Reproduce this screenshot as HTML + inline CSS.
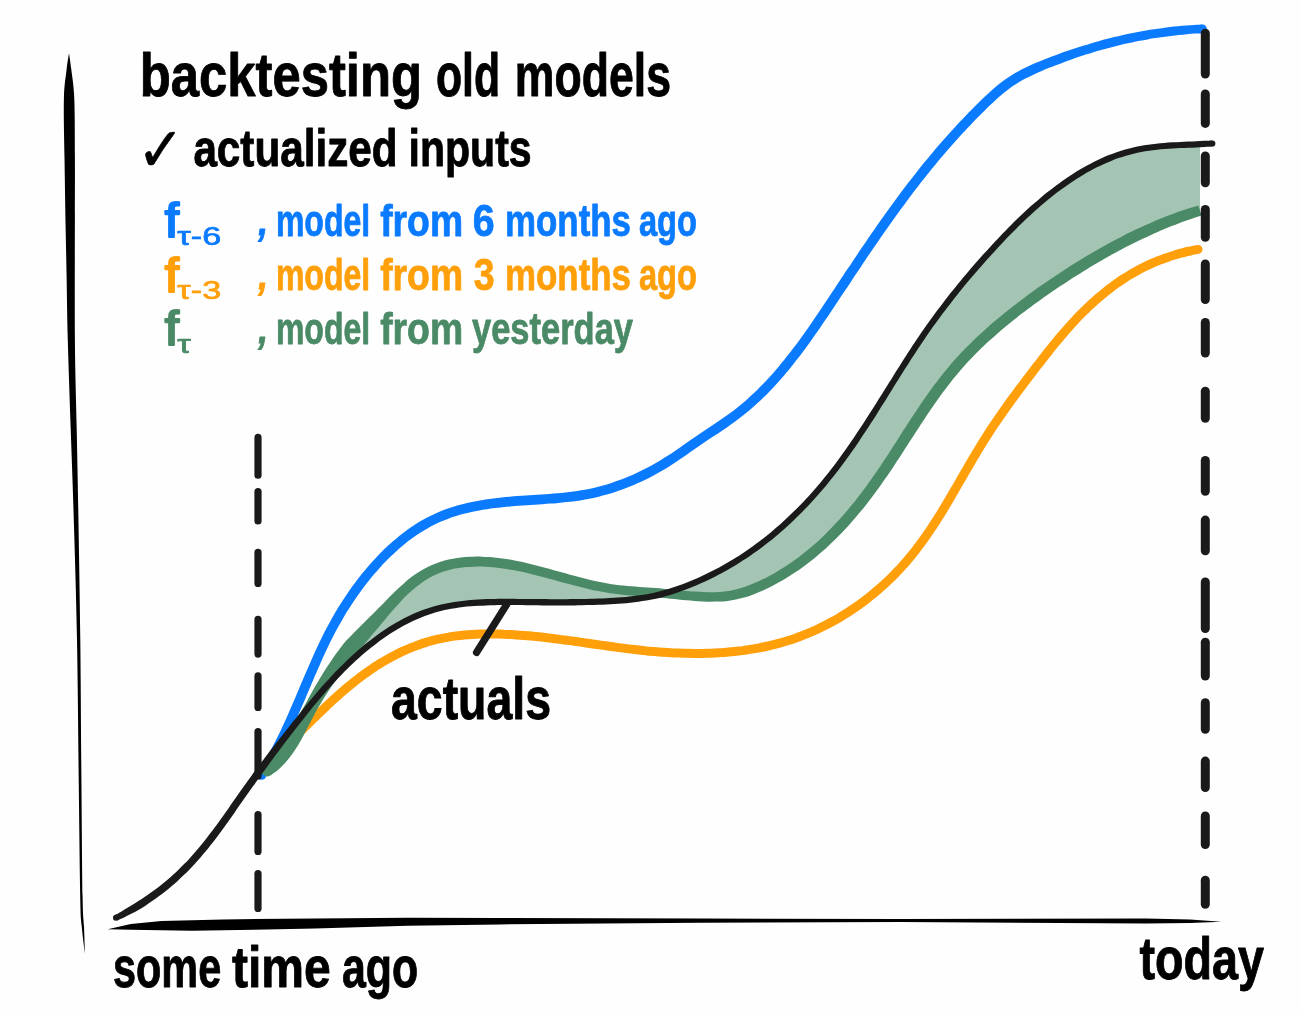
<!DOCTYPE html>
<html lang="en">
<head>
<meta charset="utf-8">
<title>backtesting old models</title>
<style>
html,body{margin:0;padding:0;background:#fefefe;}
body{width:1300px;height:1015px;overflow:hidden;}
svg{display:block;}
text{font-family:'Liberation Sans', sans-serif;}
</style>
</head>
<body>
<svg width="1300" height="1015" viewBox="0 0 1300 1015">
<rect width="1300" height="1015" fill="#fefefe"/>
<g id="chart">
<path d="M267.3 770.7 C268.3 769.8 271.3 767.1 273.2 765.2 C275.1 763.3 276.9 761.4 278.6 759.3 C280.4 757.3 282.1 755.2 283.7 753.1 C285.3 751.0 286.8 748.8 288.4 746.6 C289.9 744.4 291.3 742.1 292.7 739.9 C294.1 737.6 295.5 735.3 296.8 733.0 C298.2 730.7 299.5 728.3 300.8 726.0 C302.1 723.7 303.4 721.3 304.6 718.9 C305.9 716.6 307.2 714.2 308.5 711.9 C309.7 709.5 311.0 707.2 312.3 704.9 C313.6 702.5 314.9 700.2 316.3 697.9 C317.6 695.6 319.0 693.3 320.4 691.0 C321.7 688.7 323.1 686.4 324.6 684.2 C326.0 681.9 327.4 679.7 328.9 677.4 C330.4 675.2 331.9 673.0 333.4 670.8 C334.9 668.6 336.5 666.4 338.1 664.2 C339.6 662.1 341.2 659.9 342.9 657.8 C344.5 655.7 346.1 653.6 347.8 651.5 C349.5 649.4 351.2 647.4 353.0 645.4 C354.7 643.3 356.5 641.3 358.3 639.3 C360.0 637.3 361.9 635.4 363.7 633.4 C365.5 631.4 367.3 629.5 369.1 627.5 C370.9 625.6 372.8 623.6 374.6 621.7 C376.4 619.7 378.2 617.7 380.0 615.7 C381.8 613.8 383.6 611.8 385.4 609.8 C387.2 607.8 389.0 605.8 390.8 603.9 C392.6 601.9 394.4 599.9 396.3 598.0 C398.1 596.1 400.0 594.2 401.9 592.3 C403.9 590.5 405.8 588.7 407.9 586.9 C409.9 585.2 411.9 583.5 414.1 581.8 C416.2 580.2 418.4 578.6 420.6 577.2 C422.8 575.7 425.1 574.3 427.4 573.0 C429.8 571.7 432.2 570.5 434.6 569.5 C437.1 568.4 439.6 567.4 442.1 566.6 C444.7 565.8 447.3 565.1 449.9 564.5 C452.5 563.9 455.1 563.4 457.7 563.0 C460.4 562.6 463.1 562.3 465.7 562.1 C468.4 561.9 471.0 561.7 473.7 561.7 C476.4 561.6 479.1 561.6 481.7 561.7 C484.4 561.7 487.1 561.9 489.8 562.1 C492.4 562.3 495.1 562.5 497.7 562.8 C500.4 563.1 503.0 563.5 505.7 563.9 C508.3 564.3 511.0 564.8 513.6 565.3 C516.2 565.8 518.8 566.3 521.4 566.9 C524.1 567.4 526.7 568.0 529.3 568.7 C531.9 569.3 534.5 569.9 537.1 570.6 C539.6 571.2 542.2 571.9 544.8 572.6 C547.4 573.3 550.0 574.0 552.6 574.7 C555.1 575.4 557.7 576.2 560.3 576.9 C562.9 577.6 565.4 578.3 568.0 579.0 C570.6 579.7 573.2 580.4 575.8 581.1 C578.4 581.7 580.9 582.4 583.5 583.0 C586.1 583.7 588.7 584.3 591.3 584.9 C594.0 585.5 596.6 586.1 599.2 586.6 C601.8 587.1 604.4 587.6 607.1 588.1 C609.7 588.5 612.4 588.9 615.0 589.3 C617.6 589.6 620.3 589.9 623.0 590.2 C625.6 590.5 628.3 590.7 631.0 590.9 C633.6 591.2 636.3 591.3 639.0 591.5 C641.6 591.7 644.3 591.9 647.0 592.1 C649.6 592.3 652.3 592.5 655.0 592.7 C657.6 592.9 660.3 593.1 662.9 593.4 C665.6 593.6 668.3 593.9 670.9 594.1 C673.6 594.4 676.3 594.6 678.9 594.9 C681.6 595.1 684.2 595.4 686.9 595.6 C689.6 595.8 692.2 596.1 694.9 596.2 C697.6 596.4 700.2 596.6 702.9 596.7 C705.6 596.8 708.3 596.9 710.9 596.9 C713.6 596.9 716.3 596.9 718.9 596.8 C721.6 596.6 724.3 596.4 726.9 596.1 C729.6 595.7 732.2 595.3 734.8 594.8 C737.5 594.2 740.1 593.5 742.6 592.8 C745.2 592.0 747.7 591.2 750.2 590.2 C752.7 589.3 755.2 588.3 757.7 587.2 C760.1 586.2 762.5 585.0 764.9 583.9 C767.3 582.7 769.7 581.5 772.1 580.2 C774.4 579.0 776.8 577.7 779.1 576.3 C781.4 575.0 783.7 573.6 786.0 572.2 C788.2 570.8 790.5 569.3 792.7 567.8 C794.9 566.3 797.1 564.8 799.2 563.2 C801.4 561.6 803.5 560.0 805.7 558.4 C807.8 556.7 809.9 555.1 811.9 553.4 C814.0 551.6 816.0 549.9 818.0 548.2 C820.0 546.4 822.0 544.6 824.0 542.8 C825.9 541.0 827.9 539.1 829.8 537.2 C831.7 535.4 833.6 533.5 835.4 531.6 C837.3 529.7 839.2 527.7 841.0 525.8 C842.8 523.8 844.6 521.8 846.4 519.8 C848.1 517.8 849.9 515.8 851.6 513.8 C853.4 511.7 855.1 509.7 856.8 507.6 C858.4 505.5 860.1 503.4 861.8 501.3 C863.4 499.2 865.1 497.1 866.7 495.0 C868.3 492.8 869.9 490.7 871.5 488.5 C873.0 486.4 874.6 484.2 876.1 482.0 C877.7 479.8 879.2 477.7 880.7 475.5 C882.2 473.2 883.7 471.0 885.2 468.8 C886.7 466.6 888.2 464.4 889.7 462.1 C891.2 459.9 892.6 457.7 894.1 455.4 C895.5 453.2 897.0 450.9 898.4 448.7 C899.9 446.5 901.3 444.2 902.8 442.0 C904.2 439.7 905.7 437.4 907.1 435.2 C908.6 433.0 910.0 430.7 911.5 428.5 C912.9 426.2 914.4 424.0 915.8 421.7 C917.3 419.5 918.7 417.3 920.2 415.0 C921.7 412.8 923.2 410.6 924.7 408.4 C926.2 406.2 927.7 403.9 929.2 401.7 C930.8 399.6 932.3 397.4 933.8 395.2 C935.4 393.0 937.0 390.9 938.6 388.7 C940.2 386.6 941.8 384.4 943.4 382.3 C945.0 380.2 946.7 378.1 948.4 376.0 C950.0 373.9 951.7 371.9 953.5 369.8 C955.2 367.8 956.9 365.7 958.7 363.7 C960.5 361.7 962.3 359.8 964.1 357.8 C965.9 355.9 967.8 353.9 969.6 352.0 C971.5 350.1 973.4 348.2 975.3 346.3 C977.2 344.5 979.2 342.6 981.1 340.8 C983.1 339.0 985.0 337.1 987.0 335.4 C989.0 333.6 991.0 331.8 993.0 330.0 C995.0 328.3 997.1 326.5 999.1 324.8 C1001.1 323.1 1003.2 321.4 1005.3 319.7 C1007.3 318.0 1009.4 316.3 1011.5 314.6 C1013.6 313.0 1015.7 311.3 1017.8 309.7 C1019.9 308.1 1022.1 306.4 1024.2 304.8 C1026.3 303.2 1028.5 301.6 1030.6 300.0 C1032.8 298.5 1034.9 296.9 1037.1 295.3 C1039.3 293.8 1041.5 292.2 1043.7 290.7 C1045.9 289.2 1048.1 287.6 1050.3 286.1 C1052.5 284.6 1054.7 283.1 1056.9 281.6 C1059.1 280.1 1061.4 278.7 1063.6 277.2 C1065.8 275.8 1068.1 274.3 1070.3 272.9 C1072.6 271.4 1074.9 270.0 1077.1 268.6 C1079.4 267.2 1081.7 265.8 1084.0 264.4 C1086.2 263.0 1088.5 261.6 1090.8 260.2 C1093.1 258.9 1095.4 257.5 1097.7 256.2 C1100.0 254.8 1102.4 253.5 1104.7 252.2 C1107.0 250.9 1109.4 249.6 1111.7 248.3 C1114.1 247.0 1116.4 245.7 1118.8 244.5 C1121.1 243.2 1123.5 242.0 1125.9 240.8 C1128.3 239.5 1130.7 238.3 1133.0 237.2 C1135.4 236.0 1137.9 234.8 1140.3 233.7 C1142.7 232.5 1145.1 231.4 1147.5 230.3 C1150.0 229.2 1152.4 228.1 1154.9 227.0 C1157.3 226.0 1159.8 224.9 1162.3 223.9 C1164.7 222.9 1167.2 221.9 1169.7 220.9 C1172.2 219.9 1174.7 219.0 1177.2 218.1 C1179.7 217.1 1182.2 216.2 1184.7 215.3 C1187.3 214.5 1189.8 213.6 1192.4 212.8 C1194.9 212.0 1198.7 210.8 1200.0 210.4 L1200.0 144.1 C1199.4 144.2 1198.3 144.2 1196.3 144.3 C1194.4 144.4 1191.0 144.5 1188.4 144.6 C1185.7 144.7 1183.0 144.8 1180.4 145.0 C1177.7 145.1 1175.1 145.2 1172.4 145.4 C1169.8 145.6 1167.1 145.8 1164.5 146.0 C1161.8 146.2 1159.2 146.4 1156.5 146.7 C1153.9 147.0 1151.2 147.4 1148.6 147.7 C1146.0 148.1 1143.3 148.6 1140.7 149.1 C1138.1 149.5 1135.5 150.1 1132.9 150.7 C1130.3 151.3 1127.7 152.0 1125.2 152.7 C1122.6 153.5 1120.1 154.3 1117.6 155.2 C1115.1 156.1 1112.6 157.0 1110.1 158.0 C1107.6 159.0 1105.2 160.0 1102.7 161.1 C1100.3 162.2 1097.9 163.3 1095.5 164.5 C1093.2 165.7 1090.8 167.0 1088.5 168.2 C1086.1 169.5 1083.8 170.8 1081.5 172.2 C1079.2 173.6 1077.0 175.0 1074.7 176.4 C1072.5 177.8 1070.3 179.3 1068.1 180.8 C1065.9 182.3 1063.7 183.8 1061.6 185.4 C1059.4 187.0 1057.3 188.5 1055.1 190.2 C1053.0 191.8 1050.9 193.4 1048.9 195.1 C1046.8 196.7 1044.7 198.4 1042.7 200.1 C1040.6 201.8 1038.6 203.6 1036.6 205.3 C1034.6 207.1 1032.6 208.8 1030.6 210.6 C1028.7 212.4 1026.7 214.2 1024.8 216.0 C1022.8 217.9 1020.9 219.7 1019.0 221.5 C1017.1 223.4 1015.2 225.3 1013.3 227.2 C1011.4 229.0 1009.5 230.9 1007.7 232.8 C1005.8 234.7 1004.0 236.7 1002.2 238.6 C1000.3 240.5 998.5 242.5 996.7 244.4 C994.9 246.4 993.1 248.3 991.3 250.3 C989.5 252.3 987.7 254.2 985.9 256.2 C984.2 258.2 982.4 260.2 980.6 262.2 C978.9 264.2 977.1 266.2 975.4 268.2 C973.6 270.2 971.9 272.2 970.2 274.2 C968.4 276.3 966.7 278.3 965.0 280.3 C963.3 282.4 961.6 284.4 959.9 286.5 C958.2 288.6 956.6 290.6 954.9 292.7 C953.2 294.8 951.6 296.9 949.9 299.0 C948.3 301.1 946.7 303.2 945.0 305.3 C943.4 307.4 941.8 309.5 940.2 311.6 C938.6 313.8 937.0 315.9 935.5 318.1 C933.9 320.2 932.3 322.4 930.8 324.5 C929.3 326.7 927.7 328.9 926.2 331.1 C924.7 333.3 923.2 335.5 921.7 337.7 C920.2 339.9 918.7 342.1 917.3 344.3 C915.8 346.5 914.3 348.7 912.9 351.0 C911.4 353.2 910.0 355.4 908.5 357.7 C907.1 359.9 905.7 362.1 904.2 364.4 C902.8 366.6 901.4 368.9 900.0 371.1 C898.5 373.4 897.1 375.6 895.7 377.9 C894.3 380.2 892.9 382.4 891.5 384.7 C890.1 386.9 888.7 389.2 887.3 391.4 C885.9 393.7 884.4 396.0 883.0 398.2 C881.6 400.5 880.2 402.7 878.8 405.0 C877.4 407.2 876.0 409.5 874.5 411.7 C873.1 414.0 871.7 416.2 870.2 418.5 C868.8 420.7 867.4 422.9 865.9 425.2 C864.5 427.4 863.0 429.6 861.5 431.9 C860.1 434.1 858.6 436.3 857.1 438.5 C855.6 440.7 854.1 442.9 852.6 445.1 C851.1 447.3 849.6 449.5 848.0 451.6 C846.5 453.8 844.9 456.0 843.4 458.1 C841.8 460.3 840.2 462.4 838.6 464.6 C837.0 466.7 835.4 468.8 833.8 470.9 C832.2 473.0 830.5 475.1 828.8 477.2 C827.2 479.3 825.5 481.3 823.8 483.4 C822.1 485.4 820.4 487.4 818.6 489.5 C816.9 491.5 815.1 493.5 813.4 495.5 C811.6 497.4 809.8 499.4 808.0 501.4 C806.2 503.3 804.3 505.2 802.5 507.2 C800.6 509.1 798.8 511.0 796.9 512.8 C795.0 514.7 793.1 516.6 791.2 518.4 C789.2 520.2 787.3 522.1 785.3 523.8 C783.4 525.6 781.4 527.4 779.4 529.2 C777.4 530.9 775.3 532.6 773.3 534.3 C771.2 536.0 769.2 537.7 767.1 539.4 C765.0 541.0 762.9 542.7 760.8 544.3 C758.6 545.9 756.5 547.4 754.3 549.0 C752.2 550.5 750.0 552.1 747.8 553.6 C745.6 555.1 743.4 556.5 741.1 558.0 C738.9 559.4 736.7 560.8 734.4 562.2 C732.1 563.6 729.8 565.0 727.5 566.3 C725.2 567.6 722.9 568.9 720.6 570.2 C718.2 571.5 715.9 572.7 713.5 573.9 C711.1 575.1 708.7 576.3 706.3 577.4 C703.9 578.6 701.5 579.7 699.1 580.8 C696.6 581.9 694.2 582.9 691.7 583.9 C689.3 584.9 686.8 585.9 684.3 586.8 C681.8 587.8 679.3 588.7 676.8 589.5 C674.3 590.4 671.7 591.2 669.2 592.0 C666.6 592.7 664.1 593.5 661.5 594.1 C658.9 594.8 656.3 595.4 653.7 596.0 C651.1 596.5 648.5 597.0 645.9 597.5 C643.3 597.9 640.6 598.3 638.0 598.7 C635.3 599.0 632.7 599.3 630.1 599.6 C627.4 599.9 624.8 600.1 622.1 600.3 C619.4 600.6 616.8 600.7 614.1 600.9 C611.5 601.1 608.8 601.2 606.2 601.3 C603.5 601.5 600.8 601.6 598.2 601.7 C595.5 601.8 592.9 601.9 590.2 602.0 C587.5 602.0 584.9 602.1 582.2 602.2 C579.6 602.2 576.9 602.2 574.2 602.3 C571.6 602.3 568.9 602.3 566.3 602.3 C563.6 602.3 560.9 602.3 558.3 602.3 C555.6 602.3 552.9 602.3 550.3 602.3 C547.6 602.3 545.0 602.3 542.3 602.3 C539.6 602.2 537.0 602.2 534.3 602.2 C531.7 602.2 529.0 602.1 526.3 602.1 C523.7 602.1 521.0 602.0 518.3 602.0 C515.7 602.0 513.0 602.0 510.4 601.9 C507.7 601.9 505.0 601.9 502.4 601.9 C499.7 601.9 497.1 602.0 494.4 602.0 C491.7 602.1 489.1 602.1 486.4 602.2 C483.8 602.3 481.1 602.4 478.4 602.6 C475.8 602.8 473.1 602.9 470.5 603.2 C467.8 603.4 465.2 603.7 462.5 604.0 C459.9 604.3 457.2 604.7 454.6 605.1 C452.0 605.5 449.4 606.0 446.8 606.5 C444.2 607.0 441.6 607.6 439.0 608.3 C436.4 608.9 433.8 609.6 431.3 610.4 C428.8 611.2 426.2 612.1 423.7 613.0 C421.2 613.9 418.8 614.9 416.3 616.0 C413.9 617.0 411.5 618.2 409.1 619.3 C406.7 620.5 404.3 621.7 402.0 623.0 C399.6 624.3 397.3 625.6 395.1 627.0 C392.8 628.3 390.5 629.7 388.3 631.2 C386.1 632.7 383.9 634.2 381.7 635.7 C379.5 637.2 377.4 638.8 375.2 640.4 C373.1 642.0 371.0 643.6 368.9 645.3 C366.9 647.0 364.8 648.7 362.8 650.4 C360.8 652.1 358.8 653.9 356.8 655.6 C354.8 657.4 352.8 659.2 350.9 661.1 C349.0 662.9 347.0 664.7 345.2 666.6 C343.3 668.5 341.4 670.4 339.5 672.3 C337.7 674.2 335.8 676.1 334.0 678.1 C332.2 680.0 330.4 682.0 328.6 683.9 C326.8 685.9 325.1 687.9 323.3 689.9 C321.6 691.9 319.8 693.9 318.1 695.9 C316.4 698.0 314.7 700.0 313.0 702.1 C311.3 704.1 309.6 706.2 307.9 708.2 C306.2 710.3 304.5 712.4 302.9 714.4 C301.2 716.5 299.5 718.6 297.9 720.7 C296.2 722.8 294.6 724.9 292.9 726.9 C291.3 729.0 289.7 731.1 288.0 733.2 C286.4 735.3 284.8 737.4 283.1 739.5 C281.5 741.7 279.9 743.8 278.3 745.9 C276.7 748.0 275.1 750.1 273.5 752.2 C271.8 754.4 270.2 756.5 268.7 758.6 C267.1 760.8 264.7 764.0 263.9 765.0Z" fill="#a4c5b3"/>
<path d="M262.0 767.5 C263.0 766.6 266.0 764.0 268.0 762.2 C270.0 760.5 272.0 758.7 274.0 756.9 C275.9 755.1 277.9 753.3 279.8 751.5 C281.8 749.7 283.7 747.8 285.6 746.0 C287.5 744.1 289.4 742.3 291.3 740.4 C293.3 738.6 295.2 736.7 297.1 734.8 C299.0 733.0 300.8 731.1 302.7 729.2 C304.6 727.4 306.5 725.5 308.4 723.6 C310.3 721.8 312.2 719.9 314.1 718.1 C316.0 716.2 317.9 714.3 319.8 712.5 C321.8 710.6 323.7 708.8 325.6 707.0 C327.5 705.1 329.5 703.3 331.4 701.5 C333.4 699.7 335.4 697.9 337.3 696.2 C339.3 694.4 341.3 692.6 343.3 690.9 C345.3 689.1 347.4 687.4 349.4 685.7 C351.5 684.0 353.5 682.4 355.6 680.7 C357.7 679.1 359.8 677.4 362.0 675.8 C364.1 674.3 366.2 672.7 368.4 671.2 C370.6 669.6 372.8 668.2 375.0 666.7 C377.3 665.3 379.5 663.8 381.8 662.5 C384.1 661.1 386.4 659.7 388.7 658.5 C391.0 657.2 393.4 655.9 395.7 654.7 C398.1 653.5 400.5 652.3 402.9 651.2 C405.3 650.1 407.8 649.1 410.2 648.0 C412.7 647.0 415.2 646.1 417.7 645.2 C420.2 644.3 422.7 643.4 425.2 642.6 C427.8 641.8 430.3 641.1 432.9 640.4 C435.5 639.7 438.1 639.1 440.7 638.6 C443.3 638.0 445.9 637.5 448.5 637.1 C451.1 636.6 453.8 636.2 456.4 635.9 C459.0 635.6 461.7 635.3 464.3 635.0 C467.0 634.8 469.6 634.6 472.3 634.4 C475.0 634.3 477.6 634.2 480.3 634.1 C482.9 634.0 485.6 634.0 488.2 633.9 C490.9 633.9 493.6 634.0 496.2 634.0 C498.9 634.1 501.5 634.1 504.2 634.3 C506.9 634.4 509.5 634.5 512.2 634.6 C514.8 634.8 517.5 635.0 520.1 635.2 C522.8 635.4 525.4 635.6 528.1 635.8 C530.7 636.0 533.4 636.3 536.0 636.6 C538.7 636.8 541.3 637.1 544.0 637.4 C546.6 637.7 549.3 638.0 551.9 638.4 C554.5 638.7 557.2 639.0 559.8 639.4 C562.5 639.7 565.1 640.1 567.7 640.4 C570.4 640.8 573.0 641.1 575.6 641.5 C578.3 641.9 580.9 642.3 583.5 642.6 C586.2 643.0 588.8 643.4 591.4 643.8 C594.1 644.1 596.7 644.5 599.3 644.9 C602.0 645.3 604.6 645.6 607.2 646.0 C609.9 646.4 612.5 646.7 615.1 647.1 C617.8 647.5 620.4 647.8 623.1 648.1 C625.7 648.5 628.3 648.8 631.0 649.1 C633.6 649.4 636.3 649.7 638.9 650.0 C641.5 650.3 644.2 650.6 646.8 650.9 C649.5 651.1 652.1 651.4 654.8 651.6 C657.4 651.8 660.1 652.0 662.7 652.2 C665.4 652.4 668.0 652.6 670.7 652.7 C673.4 652.9 676.0 653.0 678.7 653.1 C681.3 653.2 684.0 653.3 686.7 653.3 C689.3 653.4 692.0 653.4 694.6 653.4 C697.3 653.4 700.0 653.4 702.6 653.4 C705.3 653.3 707.9 653.3 710.6 653.2 C713.2 653.1 715.9 653.0 718.6 652.8 C721.2 652.6 723.9 652.5 726.5 652.2 C729.2 652.0 731.8 651.8 734.5 651.5 C737.1 651.2 739.8 650.9 742.4 650.6 C745.0 650.2 747.7 649.8 750.3 649.4 C752.9 649.0 755.5 648.6 758.2 648.1 C760.8 647.6 763.4 647.1 766.0 646.5 C768.6 645.9 771.2 645.3 773.7 644.7 C776.3 644.0 778.9 643.3 781.5 642.6 C784.0 641.9 786.6 641.1 789.1 640.3 C791.6 639.5 794.2 638.6 796.7 637.7 C799.2 636.8 801.6 635.9 804.1 634.9 C806.6 633.9 809.1 632.9 811.5 631.9 C813.9 630.8 816.4 629.7 818.8 628.6 C821.2 627.4 823.5 626.2 825.9 625.0 C828.3 623.8 830.6 622.6 833.0 621.3 C835.3 620.0 837.6 618.7 839.9 617.3 C842.2 615.9 844.4 614.5 846.7 613.1 C848.9 611.7 851.1 610.2 853.3 608.7 C855.5 607.2 857.7 605.7 859.9 604.2 C862.0 602.6 864.2 601.0 866.3 599.4 C868.4 597.8 870.5 596.1 872.5 594.4 C874.6 592.7 876.6 591.0 878.6 589.3 C880.6 587.5 882.6 585.8 884.6 584.0 C886.5 582.2 888.5 580.3 890.4 578.5 C892.3 576.6 894.2 574.7 896.0 572.8 C897.9 570.9 899.7 569.0 901.5 567.0 C903.3 565.0 905.0 563.1 906.8 561.0 C908.5 559.0 910.2 557.0 911.9 554.9 C913.6 552.9 915.2 550.8 916.8 548.6 C918.4 546.5 920.0 544.4 921.6 542.3 C923.2 540.1 924.7 537.9 926.2 535.8 C927.8 533.6 929.3 531.4 930.7 529.2 C932.2 527.0 933.7 524.7 935.1 522.5 C936.5 520.3 938.0 518.0 939.4 515.8 C940.8 513.5 942.2 511.2 943.6 509.0 C944.9 506.7 946.3 504.4 947.7 502.1 C949.0 499.8 950.4 497.5 951.7 495.2 C953.1 492.9 954.4 490.6 955.7 488.3 C957.1 486.0 958.4 483.7 959.7 481.4 C961.1 479.1 962.4 476.8 963.7 474.5 C965.0 472.2 966.4 469.9 967.7 467.6 C969.0 465.3 970.4 463.0 971.7 460.7 C973.1 458.4 974.4 456.1 975.8 453.8 C977.1 451.6 978.5 449.3 979.9 447.0 C981.3 444.7 982.7 442.5 984.1 440.2 C985.5 438.0 986.9 435.7 988.4 433.5 C989.8 431.2 991.3 429.0 992.7 426.8 C994.2 424.6 995.7 422.4 997.2 420.2 C998.7 418.0 1000.2 415.8 1001.8 413.6 C1003.3 411.4 1004.8 409.3 1006.4 407.1 C1007.9 405.0 1009.5 402.8 1011.0 400.6 C1012.6 398.5 1014.2 396.4 1015.8 394.2 C1017.3 392.1 1018.9 389.9 1020.5 387.8 C1022.1 385.7 1023.7 383.6 1025.3 381.4 C1026.9 379.3 1028.6 377.2 1030.2 375.1 C1031.8 373.0 1033.4 370.9 1035.0 368.7 C1036.6 366.6 1038.3 364.5 1039.9 362.4 C1041.5 360.3 1043.1 358.2 1044.8 356.1 C1046.4 354.0 1048.1 351.9 1049.7 349.9 C1051.4 347.8 1053.0 345.7 1054.7 343.6 C1056.4 341.6 1058.1 339.5 1059.8 337.5 C1061.5 335.5 1063.2 333.4 1065.0 331.4 C1066.7 329.4 1068.5 327.4 1070.3 325.4 C1072.1 323.5 1073.9 321.5 1075.7 319.6 C1077.5 317.6 1079.4 315.7 1081.2 313.8 C1083.1 311.9 1085.0 310.1 1086.9 308.2 C1088.8 306.4 1090.8 304.6 1092.7 302.8 C1094.7 301.0 1096.7 299.2 1098.7 297.5 C1100.7 295.8 1102.8 294.1 1104.9 292.4 C1106.9 290.7 1109.0 289.1 1111.2 287.5 C1113.3 285.9 1115.4 284.3 1117.6 282.8 C1119.8 281.3 1122.0 279.8 1124.2 278.4 C1126.5 276.9 1128.7 275.5 1131.0 274.2 C1133.3 272.8 1135.6 271.5 1138.0 270.2 C1140.3 269.0 1142.7 267.8 1145.1 266.6 C1147.5 265.4 1149.9 264.3 1152.3 263.2 C1154.8 262.2 1157.2 261.2 1159.7 260.2 C1162.2 259.2 1164.7 258.3 1167.2 257.4 C1169.7 256.5 1172.2 255.7 1174.8 255.0 C1177.3 254.2 1179.9 253.5 1182.4 252.8 C1185.0 252.1 1187.6 251.5 1190.2 251.0 C1192.8 250.4 1196.7 249.7 1198.0 249.4" fill="none" stroke="#ff9f0a" stroke-width="9" stroke-linecap="round" stroke-linejoin="round"/>
<path d="M265.5 777.6 C266.3 776.5 268.5 773.1 269.9 770.8 C271.3 768.5 272.7 766.1 274.1 763.8 C275.5 761.5 276.8 759.1 278.1 756.7 C279.4 754.3 280.7 751.9 281.9 749.5 C283.2 747.1 284.4 744.7 285.6 742.3 C286.8 739.9 288.0 737.5 289.1 735.0 C290.3 732.6 291.4 730.1 292.6 727.7 C293.7 725.3 294.8 722.8 295.9 720.3 C297.0 717.9 298.1 715.4 299.1 713.0 C300.2 710.5 301.3 708.0 302.3 705.6 C303.4 703.1 304.4 700.6 305.5 698.2 C306.5 695.7 307.5 693.2 308.6 690.8 C309.6 688.3 310.7 685.9 311.7 683.4 C312.8 680.9 313.8 678.5 314.8 676.0 C315.9 673.6 317.0 671.1 318.0 668.7 C319.1 666.3 320.2 663.8 321.2 661.4 C322.3 659.0 323.4 656.6 324.5 654.2 C325.7 651.8 326.8 649.4 327.9 647.0 C329.1 644.6 330.2 642.2 331.4 639.8 C332.6 637.5 333.8 635.1 335.0 632.8 C336.3 630.4 337.5 628.1 338.8 625.8 C340.1 623.5 341.4 621.2 342.7 618.9 C344.0 616.6 345.4 614.4 346.7 612.1 C348.1 609.9 349.5 607.7 351.0 605.4 C352.4 603.2 353.8 601.0 355.3 598.9 C356.8 596.7 358.3 594.5 359.9 592.4 C361.4 590.3 363.0 588.2 364.6 586.1 C366.2 584.0 367.8 581.9 369.4 579.9 C371.1 577.8 372.8 575.8 374.5 573.8 C376.2 571.8 377.9 569.8 379.7 567.9 C381.5 565.9 383.2 564.0 385.1 562.1 C386.9 560.3 388.7 558.4 390.6 556.6 C392.5 554.7 394.4 553.0 396.3 551.2 C398.3 549.4 400.3 547.7 402.3 546.1 C404.3 544.4 406.3 542.7 408.3 541.1 C410.4 539.6 412.5 538.0 414.6 536.5 C416.8 535.0 418.9 533.6 421.1 532.2 C423.3 530.8 425.5 529.4 427.8 528.2 C430.0 526.9 432.3 525.7 434.6 524.5 C436.9 523.4 439.3 522.3 441.7 521.3 C444.0 520.3 446.4 519.3 448.9 518.4 C451.3 517.5 453.8 516.7 456.2 516.0 C458.7 515.2 461.2 514.5 463.8 513.8 C466.3 513.2 468.8 512.6 471.4 512.0 C473.9 511.5 476.5 510.9 479.1 510.5 C481.6 510.0 484.2 509.6 486.8 509.2 C489.4 508.8 492.0 508.4 494.7 508.1 C497.3 507.8 499.9 507.5 502.5 507.2 C505.2 506.9 507.8 506.7 510.4 506.4 C513.1 506.2 515.7 506.0 518.4 505.8 C521.0 505.6 523.7 505.4 526.3 505.2 C529.0 505.1 531.7 504.9 534.3 504.7 C537.0 504.5 539.7 504.4 542.3 504.2 C545.0 504.0 547.7 503.8 550.4 503.6 C553.1 503.4 555.7 503.2 558.4 502.9 C561.1 502.7 563.8 502.4 566.5 502.1 C569.2 501.8 571.9 501.5 574.6 501.2 C577.3 500.8 580.0 500.4 582.7 499.9 C585.4 499.5 588.0 499.0 590.7 498.5 C593.4 497.9 596.1 497.3 598.7 496.7 C601.4 496.0 604.0 495.3 606.7 494.6 C609.3 493.8 611.9 493.0 614.5 492.2 C617.1 491.3 619.7 490.4 622.3 489.5 C624.8 488.6 627.4 487.6 629.9 486.5 C632.4 485.5 634.9 484.5 637.4 483.3 C639.9 482.2 642.4 481.1 644.8 479.9 C647.3 478.7 649.7 477.5 652.1 476.2 C654.6 474.9 657.0 473.6 659.3 472.3 C661.7 470.9 664.0 469.6 666.4 468.2 C668.7 466.7 671.0 465.3 673.3 463.8 C675.6 462.3 677.8 460.8 680.0 459.3 C682.3 457.8 684.5 456.3 686.7 454.7 C688.9 453.2 691.1 451.6 693.3 450.1 C695.5 448.6 697.6 447.0 699.8 445.5 C702.0 444.0 704.2 442.5 706.4 441.1 C708.6 439.6 710.8 438.1 713.1 436.6 C715.3 435.2 717.5 433.7 719.8 432.2 C722.0 430.7 724.2 429.2 726.5 427.7 C728.7 426.1 730.9 424.6 733.1 423.0 C735.3 421.4 737.5 419.8 739.7 418.1 C741.8 416.5 744.0 414.8 746.1 413.1 C748.2 411.3 750.3 409.6 752.3 407.8 C754.4 406.0 756.4 404.1 758.4 402.3 C760.4 400.4 762.3 398.6 764.3 396.7 C766.2 394.8 768.1 392.8 770.0 390.9 C771.9 388.9 773.8 386.9 775.6 384.9 C777.4 382.9 779.2 380.9 781.0 378.9 C782.8 376.9 784.6 374.8 786.3 372.7 C788.1 370.7 789.8 368.6 791.5 366.5 C793.2 364.4 794.9 362.3 796.5 360.1 C798.2 358.0 799.8 355.9 801.5 353.7 C803.1 351.6 804.7 349.4 806.3 347.2 C807.9 345.1 809.5 342.9 811.0 340.7 C812.6 338.5 814.2 336.3 815.7 334.1 C817.2 331.9 818.8 329.7 820.3 327.5 C821.8 325.3 823.3 323.0 824.8 320.8 C826.4 318.6 827.9 316.4 829.3 314.2 C830.8 311.9 832.3 309.7 833.8 307.5 C835.3 305.2 836.8 303.0 838.3 300.8 C839.7 298.6 841.2 296.3 842.7 294.1 C844.2 291.9 845.6 289.6 847.1 287.4 C848.6 285.2 850.1 283.0 851.6 280.7 C853.0 278.5 854.5 276.3 856.0 274.1 C857.5 271.8 859.0 269.6 860.5 267.4 C861.9 265.2 863.4 263.0 864.9 260.8 C866.4 258.5 867.9 256.3 869.4 254.1 C870.9 251.9 872.4 249.7 873.9 247.5 C875.4 245.3 876.9 243.1 878.4 240.9 C879.9 238.7 881.5 236.5 883.0 234.3 C884.5 232.1 886.0 230.0 887.6 227.8 C889.1 225.6 890.6 223.4 892.2 221.3 C893.7 219.1 895.3 216.9 896.8 214.8 C898.4 212.6 899.9 210.4 901.5 208.3 C903.1 206.1 904.7 204.0 906.2 201.9 C907.8 199.7 909.4 197.6 911.0 195.5 C912.6 193.3 914.2 191.2 915.9 189.1 C917.5 187.0 919.1 184.9 920.7 182.8 C922.4 180.7 924.0 178.6 925.7 176.5 C927.3 174.5 929.0 172.4 930.7 170.3 C932.3 168.3 934.0 166.2 935.7 164.2 C937.4 162.1 939.1 160.1 940.8 158.0 C942.5 156.0 944.3 154.0 946.0 152.0 C947.7 150.0 949.5 148.0 951.2 146.0 C953.0 144.0 954.8 142.0 956.5 140.0 C958.3 138.0 960.1 136.1 961.9 134.1 C963.7 132.2 965.5 130.2 967.3 128.3 C969.2 126.4 971.0 124.4 972.8 122.5 C974.7 120.6 976.5 118.7 978.4 116.8 C980.2 114.9 982.1 113.1 984.0 111.2 C985.9 109.3 987.8 107.5 989.7 105.6 C991.6 103.8 993.5 102.0 995.4 100.2 C997.4 98.5 999.3 96.7 1001.3 95.1 C1003.3 93.4 1005.3 91.7 1007.3 90.2 C1009.4 88.6 1011.5 87.1 1013.6 85.6 C1015.7 84.2 1017.9 82.8 1020.1 81.5 C1022.3 80.2 1024.6 79.0 1026.9 77.8 C1029.2 76.6 1031.6 75.5 1033.9 74.4 C1036.3 73.2 1038.7 72.2 1041.1 71.2 C1043.6 70.1 1046.0 69.1 1048.5 68.1 C1050.9 67.1 1053.4 66.2 1055.9 65.2 C1058.3 64.3 1060.8 63.3 1063.3 62.4 C1065.8 61.5 1068.3 60.6 1070.8 59.7 C1073.3 58.8 1075.8 58.0 1078.3 57.1 C1080.8 56.3 1083.3 55.4 1085.8 54.6 C1088.4 53.8 1090.9 53.1 1093.4 52.3 C1096.0 51.5 1098.5 50.8 1101.1 50.1 C1103.6 49.3 1106.2 48.6 1108.7 48.0 C1111.3 47.3 1113.8 46.6 1116.4 46.0 C1119.0 45.4 1121.6 44.7 1124.1 44.1 C1126.7 43.5 1129.3 43.0 1131.9 42.4 C1134.5 41.9 1137.1 41.3 1139.7 40.8 C1142.3 40.3 1144.9 39.9 1147.5 39.4 C1150.1 38.9 1152.7 38.5 1155.3 38.1 C1157.9 37.7 1160.6 37.3 1163.2 36.9 C1165.8 36.5 1168.4 36.2 1171.1 35.9 C1173.7 35.6 1176.3 35.3 1178.9 35.0 C1181.6 34.7 1184.2 34.5 1186.9 34.2 C1189.5 34.0 1192.1 33.8 1194.8 33.6 C1197.4 33.5 1201.4 33.3 1202.7 33.2 L1202.3 24.6 C1200.9 24.6 1196.9 24.8 1194.2 25.0 C1191.5 25.2 1188.8 25.3 1186.1 25.6 C1183.4 25.8 1180.8 26.0 1178.1 26.3 C1175.4 26.5 1172.7 26.8 1170.0 27.1 C1167.3 27.5 1164.7 27.8 1162.0 28.2 C1159.3 28.5 1156.6 28.9 1154.0 29.3 C1151.3 29.7 1148.6 30.1 1146.0 30.6 C1143.3 31.0 1140.6 31.5 1138.0 32.0 C1135.3 32.5 1132.7 33.0 1130.1 33.6 C1127.4 34.1 1124.8 34.7 1122.1 35.3 C1119.5 35.9 1116.9 36.5 1114.3 37.1 C1111.6 37.8 1109.0 38.4 1106.4 39.1 C1103.8 39.8 1101.2 40.5 1098.6 41.2 C1096.0 41.9 1093.4 42.7 1090.8 43.4 C1088.2 44.2 1085.6 45.0 1083.0 45.8 C1080.5 46.6 1077.9 47.4 1075.3 48.2 C1072.8 49.1 1070.2 49.9 1067.7 50.8 C1065.1 51.7 1062.6 52.6 1060.0 53.5 C1057.5 54.4 1055.0 55.4 1052.5 56.3 C1049.9 57.3 1047.4 58.2 1044.9 59.2 C1042.4 60.2 1039.9 61.2 1037.4 62.3 C1034.9 63.4 1032.4 64.4 1029.9 65.6 C1027.4 66.7 1024.9 67.9 1022.5 69.1 C1020.0 70.4 1017.6 71.7 1015.2 73.1 C1012.8 74.5 1010.4 75.9 1008.1 77.5 C1005.8 79.0 1003.6 80.6 1001.4 82.3 C999.2 84.0 997.0 85.7 994.9 87.5 C992.8 89.3 990.8 91.1 988.8 92.9 C986.8 94.7 984.8 96.6 982.8 98.5 C980.9 100.4 979.0 102.3 977.0 104.2 C975.1 106.1 973.2 108.0 971.3 109.9 C969.4 111.8 967.6 113.7 965.7 115.7 C963.8 117.6 962.0 119.6 960.1 121.5 C958.3 123.5 956.5 125.5 954.6 127.4 C952.8 129.4 951.0 131.4 949.2 133.4 C947.4 135.4 945.6 137.4 943.8 139.4 C942.1 141.5 940.3 143.5 938.5 145.5 C936.8 147.6 935.0 149.6 933.3 151.7 C931.6 153.7 929.8 155.8 928.1 157.9 C926.4 159.9 924.7 162.0 923.0 164.1 C921.3 166.2 919.6 168.3 917.9 170.4 C916.3 172.5 914.6 174.6 913.0 176.7 C911.3 178.8 909.7 181.0 908.0 183.1 C906.4 185.2 904.8 187.4 903.1 189.5 C901.5 191.7 899.9 193.8 898.3 196.0 C896.7 198.1 895.1 200.3 893.6 202.5 C892.0 204.6 890.4 206.8 888.8 209.0 C887.3 211.2 885.7 213.4 884.1 215.5 C882.6 217.7 881.0 219.9 879.5 222.1 C878.0 224.3 876.4 226.5 874.9 228.7 C873.4 230.9 871.8 233.1 870.3 235.3 C868.8 237.5 867.3 239.7 865.8 242.0 C864.3 244.2 862.8 246.4 861.2 248.6 C859.7 250.8 858.2 253.0 856.8 255.3 C855.3 257.5 853.8 259.7 852.3 261.9 C850.8 264.2 849.3 266.4 847.8 268.6 C846.3 270.8 844.8 273.1 843.4 275.3 C841.9 277.5 840.4 279.7 838.9 282.0 C837.5 284.2 836.0 286.4 834.5 288.7 C833.0 290.9 831.5 293.1 830.1 295.3 C828.6 297.6 827.1 299.8 825.6 302.0 C824.2 304.2 822.7 306.5 821.2 308.7 C819.7 310.9 818.2 313.1 816.7 315.3 C815.2 317.5 813.7 319.7 812.2 321.9 C810.7 324.1 809.2 326.3 807.7 328.5 C806.1 330.6 804.6 332.8 803.1 335.0 C801.5 337.1 800.0 339.3 798.4 341.4 C796.8 343.5 795.2 345.7 793.6 347.8 C792.0 349.9 790.4 352.0 788.8 354.1 C787.2 356.2 785.5 358.2 783.9 360.3 C782.2 362.4 780.5 364.4 778.8 366.4 C777.1 368.4 775.4 370.4 773.7 372.4 C771.9 374.4 770.2 376.4 768.4 378.3 C766.6 380.2 764.8 382.2 763.0 384.1 C761.1 386.0 759.3 387.8 757.4 389.7 C755.5 391.5 753.6 393.3 751.7 395.1 C749.8 396.9 747.8 398.7 745.9 400.4 C743.9 402.1 741.9 403.8 739.9 405.5 C737.8 407.1 735.8 408.8 733.7 410.4 C731.6 412.0 729.5 413.5 727.4 415.1 C725.3 416.6 723.1 418.1 720.9 419.6 C718.7 421.1 716.5 422.6 714.3 424.1 C712.1 425.5 709.9 427.0 707.6 428.5 C705.4 430.0 703.2 431.4 700.9 432.9 C698.7 434.4 696.5 436.0 694.3 437.5 C692.1 439.0 689.9 440.6 687.7 442.1 C685.5 443.6 683.3 445.2 681.1 446.7 C678.9 448.2 676.7 449.7 674.6 451.2 C672.4 452.7 670.2 454.2 668.0 455.6 C665.8 457.0 663.5 458.4 661.3 459.8 C659.1 461.2 656.8 462.5 654.5 463.8 C652.2 465.1 649.9 466.3 647.6 467.6 C645.3 468.8 642.9 470.0 640.6 471.1 C638.2 472.3 635.9 473.4 633.5 474.4 C631.1 475.5 628.7 476.5 626.2 477.5 C623.8 478.5 621.4 479.4 618.9 480.3 C616.5 481.2 614.0 482.1 611.5 482.9 C609.0 483.7 606.5 484.5 604.0 485.2 C601.5 485.9 599.0 486.6 596.4 487.2 C593.9 487.8 591.3 488.4 588.8 488.9 C586.2 489.4 583.7 489.9 581.1 490.3 C578.5 490.8 575.9 491.2 573.3 491.5 C570.7 491.9 568.1 492.2 565.4 492.5 C562.8 492.8 560.2 493.0 557.6 493.3 C554.9 493.5 552.3 493.7 549.6 493.9 C547.0 494.1 544.3 494.3 541.7 494.5 C539.0 494.7 536.3 494.8 533.7 495.0 C531.0 495.2 528.3 495.4 525.7 495.6 C523.0 495.7 520.3 495.9 517.6 496.1 C514.9 496.3 512.3 496.5 509.6 496.8 C506.9 497.0 504.2 497.3 501.5 497.6 C498.8 497.8 496.1 498.1 493.4 498.5 C490.7 498.8 488.1 499.2 485.4 499.6 C482.7 500.0 480.0 500.5 477.3 500.9 C474.6 501.4 472.0 502.0 469.3 502.6 C466.6 503.1 464.0 503.8 461.3 504.5 C458.7 505.2 456.0 505.9 453.4 506.7 C450.8 507.5 448.1 508.4 445.6 509.3 C443.0 510.3 440.4 511.3 437.8 512.4 C435.3 513.5 432.8 514.6 430.3 515.9 C427.8 517.1 425.4 518.4 423.0 519.8 C420.6 521.1 418.2 522.5 415.9 524.0 C413.6 525.5 411.3 527.0 409.1 528.6 C406.8 530.2 404.6 531.8 402.5 533.5 C400.3 535.2 398.1 536.9 396.1 538.7 C394.0 540.4 391.9 542.2 389.9 544.0 C387.8 545.9 385.9 547.7 383.9 549.6 C381.9 551.5 380.0 553.5 378.1 555.4 C376.2 557.4 374.4 559.4 372.5 561.4 C370.7 563.4 368.9 565.5 367.2 567.5 C365.4 569.6 363.6 571.7 361.9 573.8 C360.2 575.9 358.6 578.1 356.9 580.2 C355.3 582.4 353.6 584.6 352.0 586.8 C350.5 589.0 348.9 591.2 347.4 593.4 C345.8 595.7 344.3 597.9 342.9 600.2 C341.4 602.5 339.9 604.8 338.5 607.1 C337.1 609.4 335.7 611.7 334.4 614.1 C333.0 616.4 331.7 618.8 330.4 621.2 C329.0 623.5 327.8 625.9 326.5 628.3 C325.2 630.7 324.0 633.1 322.8 635.5 C321.6 637.9 320.4 640.4 319.2 642.8 C318.1 645.2 316.9 647.7 315.8 650.1 C314.7 652.6 313.6 655.0 312.5 657.5 C311.4 659.9 310.3 662.4 309.2 664.9 C308.1 667.3 307.1 669.8 306.0 672.2 C305.0 674.7 303.9 677.2 302.9 679.6 C301.8 682.1 300.8 684.6 299.7 687.0 C298.7 689.5 297.7 692.0 296.6 694.4 C295.6 696.9 294.5 699.3 293.5 701.8 C292.4 704.2 291.4 706.7 290.3 709.1 C289.3 711.6 288.2 714.0 287.1 716.4 C286.0 718.9 284.9 721.3 283.8 723.7 C282.7 726.1 281.6 728.5 280.5 730.9 C279.3 733.3 278.2 735.7 277.0 738.0 C275.8 740.4 274.6 742.8 273.4 745.1 C272.2 747.4 270.9 749.8 269.7 752.1 C268.4 754.4 267.1 756.7 265.8 759.0 C264.5 761.2 263.1 763.5 261.7 765.7 C260.3 768.0 258.2 771.3 257.5 772.4Z" fill="#0a7aff"/><circle cx="261.5" cy="775.0" r="4.80" fill="#0a7aff"/><circle cx="1202.5" cy="28.9" r="4.31" fill="#0a7aff"/>
<path d="M271.3 774.9 C272.4 774.1 275.8 771.8 278.0 770.0 C280.1 768.2 282.2 766.2 284.2 764.1 C286.1 762.0 287.8 759.8 289.6 757.6 C291.3 755.4 293.0 753.1 294.5 750.8 C296.1 748.5 297.5 746.1 298.9 743.7 C300.3 741.4 301.6 738.9 303.0 736.5 C304.3 734.1 305.5 731.7 306.8 729.3 C308.0 726.9 309.2 724.5 310.5 722.1 C311.7 719.7 312.9 717.4 314.2 715.0 C315.4 712.7 316.6 710.3 317.9 708.0 C319.2 705.7 320.6 703.5 322.0 701.2 C323.4 699.0 324.8 696.7 326.2 694.5 C327.6 692.3 329.0 690.1 330.5 687.9 C332.0 685.7 333.4 683.5 334.9 681.4 C336.4 679.2 338.0 677.1 339.5 675.0 C341.1 672.9 342.6 670.8 344.2 668.7 C345.8 666.7 347.5 664.6 349.1 662.6 C350.8 660.6 352.5 658.6 354.2 656.6 C355.8 654.6 357.4 652.6 359.1 650.6 C360.7 648.6 362.3 646.5 364.0 644.5 C365.7 642.5 367.4 640.4 369.1 638.4 C370.8 636.4 372.6 634.4 374.3 632.3 C376.0 630.3 377.8 628.3 379.5 626.2 C381.2 624.1 383.0 622.1 384.7 620.0 C386.4 617.9 388.1 615.8 389.8 613.8 C391.5 611.8 393.3 609.8 395.0 607.8 C396.8 605.8 398.5 603.8 400.3 601.9 C402.0 599.9 403.8 598.0 405.7 596.2 C407.5 594.4 409.4 592.6 411.4 590.9 C413.3 589.2 415.3 587.6 417.3 586.0 C419.3 584.5 421.4 582.9 423.5 581.5 C425.6 580.1 427.7 578.8 429.9 577.6 C432.2 576.4 434.4 575.2 436.7 574.2 C439.0 573.2 441.3 572.3 443.7 571.5 C446.1 570.7 448.5 570.1 451.0 569.5 C453.5 568.9 456.0 568.4 458.5 568.1 C461.0 567.7 463.6 567.4 466.1 567.1 C468.7 566.9 471.3 566.8 473.9 566.7 C476.4 566.6 479.0 566.6 481.6 566.6 C484.2 566.7 486.8 566.8 489.4 567.0 C492.0 567.2 494.6 567.4 497.2 567.7 C499.8 568.0 502.4 568.3 504.9 568.7 C507.5 569.1 510.1 569.6 512.7 570.0 C515.3 570.5 517.9 571.0 520.4 571.6 C523.0 572.1 525.6 572.7 528.2 573.3 C530.7 573.9 533.3 574.6 535.9 575.2 C538.4 575.9 541.0 576.5 543.6 577.2 C546.2 577.9 548.7 578.6 551.3 579.3 C553.9 580.0 556.5 580.7 559.0 581.4 C561.6 582.1 564.2 582.8 566.8 583.5 C569.4 584.2 572.0 584.9 574.6 585.6 C577.2 586.3 579.8 586.9 582.4 587.6 C585.1 588.2 587.7 588.8 590.3 589.4 C593.0 590.0 595.6 590.6 598.3 591.1 C600.9 591.6 603.6 592.1 606.3 592.6 C609.0 593.1 611.7 593.5 614.4 593.8 C617.1 594.2 619.8 594.5 622.5 594.8 C625.2 595.1 627.9 595.3 630.6 595.6 C633.3 595.8 635.9 596.0 638.6 596.2 C641.3 596.4 644.0 596.5 646.6 596.7 C649.3 596.9 651.9 597.1 654.6 597.3 C657.2 597.5 659.9 597.8 662.5 598.0 C665.2 598.2 667.8 598.5 670.5 598.8 C673.1 599.0 675.8 599.3 678.5 599.5 C681.2 599.8 683.8 600.1 686.5 600.3 C689.2 600.5 691.9 600.7 694.6 600.9 C697.3 601.1 700.0 601.3 702.7 601.4 C705.4 601.6 708.2 601.7 710.9 601.7 C713.7 601.7 716.4 601.7 719.2 601.6 C722.0 601.4 724.8 601.2 727.5 600.9 C730.3 600.6 733.1 600.1 735.9 599.6 C738.6 599.0 741.3 598.3 744.0 597.5 C746.7 596.8 749.4 595.9 752.0 594.9 C754.6 594.0 757.1 592.9 759.7 591.8 C762.2 590.8 764.7 589.6 767.1 588.4 C769.6 587.2 772.1 586.0 774.5 584.7 C776.9 583.4 779.3 582.1 781.7 580.8 C784.0 579.4 786.4 578.0 788.7 576.5 C791.0 575.1 793.3 573.6 795.6 572.1 C797.8 570.6 800.1 569.0 802.3 567.4 C804.5 565.8 806.7 564.2 808.9 562.5 C811.0 560.8 813.2 559.1 815.3 557.4 C817.4 555.7 819.5 553.9 821.5 552.1 C823.6 550.3 825.6 548.5 827.6 546.7 C829.6 544.8 831.6 543.0 833.5 541.1 C835.5 539.2 837.4 537.3 839.3 535.3 C841.2 533.4 843.1 531.4 844.9 529.4 C846.8 527.4 848.6 525.4 850.4 523.4 C852.2 521.4 854.0 519.4 855.8 517.3 C857.5 515.2 859.3 513.2 861.0 511.1 C862.7 509.0 864.4 506.9 866.1 504.7 C867.8 502.6 869.4 500.5 871.1 498.3 C872.7 496.2 874.3 494.0 875.9 491.8 C877.5 489.6 879.1 487.4 880.7 485.2 C882.2 483.0 883.8 480.8 885.3 478.6 C886.8 476.4 888.4 474.2 889.9 471.9 C891.4 469.7 892.9 467.5 894.4 465.2 C895.8 463.0 897.3 460.7 898.8 458.5 C900.2 456.2 901.7 454.0 903.2 451.7 C904.6 449.5 906.1 447.2 907.5 445.0 C909.0 442.8 910.4 440.5 911.9 438.3 C913.3 436.0 914.8 433.8 916.2 431.5 C917.7 429.3 919.1 427.1 920.6 424.8 C922.0 422.6 923.5 420.4 925.0 418.2 C926.4 416.0 927.9 413.8 929.4 411.6 C930.9 409.4 932.4 407.2 933.9 405.0 C935.4 402.8 936.9 400.6 938.5 398.5 C940.0 396.3 941.5 394.2 943.1 392.1 C944.7 390.0 946.3 387.8 947.9 385.7 C949.5 383.7 951.1 381.6 952.7 379.5 C954.4 377.5 956.1 375.4 957.8 373.4 C959.4 371.4 961.2 369.4 962.9 367.5 C964.6 365.5 966.4 363.5 968.2 361.6 C970.0 359.7 971.8 357.8 973.6 355.9 C975.5 354.0 977.3 352.2 979.2 350.3 C981.1 348.5 983.0 346.6 984.9 344.8 C986.8 343.0 988.8 341.2 990.7 339.5 C992.7 337.7 994.7 336.0 996.7 334.2 C998.7 332.5 1000.7 330.8 1002.7 329.1 C1004.7 327.4 1006.7 325.7 1008.8 324.0 C1010.8 322.3 1012.9 320.7 1015.0 319.0 C1017.1 317.4 1019.1 315.7 1021.2 314.1 C1023.3 312.5 1025.4 310.9 1027.6 309.3 C1029.7 307.7 1031.8 306.1 1033.9 304.5 C1036.1 303.0 1038.2 301.4 1040.4 299.9 C1042.5 298.3 1044.7 296.8 1046.9 295.3 C1049.1 293.8 1051.2 292.3 1053.4 290.8 C1055.6 289.3 1057.8 287.8 1060.0 286.3 C1062.2 284.8 1064.5 283.4 1066.7 281.9 C1068.9 280.5 1071.1 279.1 1073.4 277.6 C1075.6 276.2 1077.9 274.8 1080.1 273.4 C1082.4 272.0 1084.6 270.6 1086.9 269.2 C1089.2 267.8 1091.4 266.5 1093.7 265.1 C1096.0 263.8 1098.3 262.4 1100.6 261.1 C1102.9 259.8 1105.2 258.4 1107.5 257.1 C1109.8 255.8 1112.1 254.5 1114.4 253.3 C1116.8 252.0 1119.1 250.7 1121.4 249.5 C1123.8 248.2 1126.1 247.0 1128.5 245.8 C1130.8 244.6 1133.2 243.4 1135.5 242.2 C1137.9 241.0 1140.3 239.9 1142.7 238.8 C1145.1 237.6 1147.5 236.5 1149.9 235.4 C1152.3 234.3 1154.7 233.2 1157.1 232.2 C1159.5 231.1 1162.0 230.1 1164.4 229.1 C1166.8 228.0 1169.3 227.0 1171.7 226.0 C1174.2 225.1 1176.6 224.1 1179.1 223.2 C1181.6 222.2 1184.0 221.3 1186.5 220.4 C1189.0 219.6 1191.5 218.7 1194.0 217.9 C1196.5 217.0 1200.3 215.8 1201.6 215.4 L1198.4 205.4 C1197.2 205.8 1193.3 206.9 1190.7 207.7 C1188.1 208.6 1185.6 209.4 1183.0 210.3 C1180.4 211.1 1177.9 212.0 1175.3 212.9 C1172.8 213.9 1170.2 214.8 1167.7 215.8 C1165.2 216.7 1162.6 217.7 1160.1 218.7 C1157.6 219.8 1155.1 220.8 1152.6 221.9 C1150.2 223.0 1147.7 224.1 1145.2 225.2 C1142.8 226.3 1140.3 227.4 1137.9 228.6 C1135.4 229.7 1133.0 230.9 1130.6 232.1 C1128.1 233.3 1125.7 234.5 1123.3 235.7 C1120.9 237.0 1118.5 238.2 1116.1 239.5 C1113.7 240.7 1111.3 242.0 1109.0 243.3 C1106.6 244.6 1104.3 245.9 1101.9 247.2 C1099.5 248.5 1097.2 249.9 1094.9 251.2 C1092.5 252.6 1090.2 254.0 1087.9 255.3 C1085.6 256.7 1083.3 258.1 1081.0 259.5 C1078.7 260.9 1076.4 262.3 1074.1 263.8 C1071.8 265.2 1069.6 266.6 1067.3 268.1 C1065.0 269.6 1062.8 271.0 1060.5 272.5 C1058.3 274.0 1056.0 275.5 1053.8 277.0 C1051.5 278.4 1049.3 280.0 1047.1 281.5 C1044.9 283.0 1042.7 284.5 1040.5 286.1 C1038.2 287.6 1036.0 289.2 1033.9 290.8 C1031.7 292.3 1029.5 293.9 1027.3 295.5 C1025.1 297.1 1023.0 298.7 1020.8 300.4 C1018.7 302.0 1016.5 303.6 1014.4 305.3 C1012.3 306.9 1010.2 308.6 1008.0 310.3 C1005.9 312.0 1003.8 313.7 1001.7 315.4 C999.6 317.1 997.6 318.8 995.5 320.6 C993.4 322.3 991.4 324.1 989.4 325.8 C987.3 327.6 985.3 329.4 983.3 331.2 C981.3 333.0 979.3 334.9 977.3 336.7 C975.3 338.6 973.4 340.5 971.4 342.4 C969.5 344.3 967.6 346.2 965.7 348.1 C963.8 350.1 961.9 352.0 960.0 354.0 C958.2 356.0 956.3 358.0 954.5 360.0 C952.7 362.1 950.9 364.1 949.2 366.2 C947.4 368.3 945.7 370.4 944.0 372.5 C942.3 374.6 940.6 376.7 938.9 378.9 C937.3 381.0 935.6 383.2 934.0 385.3 C932.4 387.5 930.8 389.7 929.2 391.9 C927.7 394.1 926.1 396.3 924.6 398.5 C923.0 400.7 921.5 402.9 920.0 405.2 C918.5 407.4 917.0 409.6 915.5 411.9 C914.0 414.1 912.5 416.4 911.1 418.6 C909.6 420.9 908.1 423.1 906.7 425.4 C905.2 427.6 903.8 429.9 902.3 432.1 C900.9 434.4 899.5 436.6 898.0 438.9 C896.6 441.2 895.1 443.4 893.7 445.6 C892.3 447.9 890.8 450.1 889.4 452.4 C887.9 454.6 886.5 456.8 885.0 459.1 C883.5 461.3 882.1 463.5 880.6 465.7 C879.1 467.9 877.6 470.1 876.1 472.3 C874.6 474.5 873.1 476.7 871.6 478.8 C870.1 481.0 868.5 483.1 867.0 485.3 C865.4 487.4 863.9 489.5 862.3 491.6 C860.7 493.8 859.1 495.8 857.4 497.9 C855.8 500.0 854.2 502.1 852.5 504.1 C850.8 506.2 849.2 508.2 847.5 510.2 C845.8 512.2 844.0 514.2 842.3 516.2 C840.6 518.2 838.8 520.1 837.0 522.1 C835.2 524.0 833.4 525.9 831.6 527.8 C829.8 529.7 827.9 531.6 826.0 533.4 C824.2 535.3 822.3 537.1 820.4 538.9 C818.4 540.7 816.5 542.4 814.5 544.2 C812.6 545.9 810.6 547.6 808.6 549.3 C806.5 551.0 804.5 552.6 802.4 554.2 C800.4 555.9 798.3 557.4 796.2 559.0 C794.1 560.5 791.9 562.0 789.8 563.5 C787.6 565.0 785.4 566.4 783.2 567.8 C781.0 569.2 778.8 570.6 776.5 571.9 C774.3 573.2 772.0 574.5 769.7 575.7 C767.4 577.0 765.1 578.2 762.7 579.3 C760.4 580.5 758.0 581.6 755.7 582.6 C753.3 583.6 750.9 584.6 748.5 585.5 C746.1 586.4 743.7 587.3 741.2 588.0 C738.8 588.8 736.3 589.4 733.8 590.0 C731.4 590.5 728.9 590.9 726.3 591.2 C723.8 591.6 721.3 591.8 718.7 591.9 C716.1 592.1 713.5 592.1 710.9 592.2 C708.3 592.2 705.7 592.1 703.1 592.0 C700.5 591.9 697.9 591.7 695.2 591.6 C692.6 591.4 689.9 591.2 687.3 590.9 C684.7 590.7 682.0 590.5 679.4 590.2 C676.7 590.0 674.0 589.7 671.4 589.5 C668.7 589.2 666.0 589.0 663.4 588.7 C660.7 588.5 658.0 588.2 655.3 588.0 C652.6 587.8 650.0 587.6 647.3 587.4 C644.6 587.3 641.9 587.1 639.3 586.9 C636.6 586.7 634.0 586.5 631.3 586.3 C628.7 586.1 626.1 585.9 623.4 585.6 C620.8 585.3 618.2 585.0 615.6 584.7 C613.0 584.3 610.4 584.0 607.8 583.5 C605.3 583.1 602.7 582.6 600.1 582.1 C597.5 581.5 594.9 581.0 592.4 580.4 C589.8 579.8 587.2 579.2 584.7 578.5 C582.1 577.9 579.5 577.2 577.0 576.5 C574.4 575.9 571.8 575.2 569.2 574.5 C566.7 573.7 564.1 573.0 561.5 572.3 C559.0 571.6 556.4 570.9 553.8 570.2 C551.2 569.4 548.6 568.7 546.0 568.0 C543.4 567.3 540.9 566.6 538.2 565.9 C535.6 565.3 533.0 564.6 530.4 564.0 C527.8 563.3 525.1 562.7 522.5 562.1 C519.8 561.6 517.2 561.0 514.5 560.5 C511.8 560.0 509.1 559.5 506.4 559.1 C503.7 558.7 501.0 558.3 498.3 558.0 C495.6 557.6 492.8 557.3 490.1 557.1 C487.4 556.9 484.6 556.8 481.9 556.7 C479.1 556.6 476.3 556.6 473.6 556.7 C470.8 556.7 468.1 556.9 465.3 557.1 C462.5 557.3 459.7 557.6 457.0 558.0 C454.2 558.4 451.5 558.9 448.7 559.5 C446.0 560.1 443.2 560.9 440.5 561.7 C437.8 562.6 435.2 563.6 432.6 564.7 C430.0 565.8 427.4 567.1 424.9 568.4 C422.5 569.8 420.0 571.2 417.7 572.8 C415.3 574.3 413.1 575.9 410.8 577.6 C408.6 579.3 406.5 581.1 404.4 582.9 C402.3 584.7 400.2 586.6 398.2 588.4 C396.2 590.3 394.2 592.2 392.3 594.2 C390.4 596.1 388.4 598.0 386.6 599.9 C384.7 601.9 382.8 603.9 381.0 605.8 C379.1 607.7 377.2 609.6 375.3 611.5 C373.5 613.4 371.6 615.2 369.7 617.1 C367.8 619.0 365.9 620.8 364.0 622.7 C362.1 624.6 360.1 626.5 358.2 628.4 C356.3 630.3 354.4 632.2 352.5 634.2 C350.6 636.1 348.7 638.1 346.8 640.1 C345.0 642.1 343.2 644.2 341.5 646.4 C339.8 648.5 338.2 650.8 336.6 653.0 C335.0 655.2 333.4 657.5 331.9 659.7 C330.3 662.0 328.8 664.3 327.3 666.5 C325.8 668.8 324.4 671.1 322.9 673.4 C321.5 675.8 320.0 678.1 318.7 680.4 C317.3 682.8 315.9 685.1 314.5 687.5 C313.2 689.8 311.9 692.2 310.6 694.6 C309.3 697.0 308.0 699.4 306.7 701.7 C305.4 704.1 304.0 706.4 302.7 708.8 C301.4 711.1 300.1 713.5 298.8 715.8 C297.5 718.1 296.2 720.4 294.8 722.7 C293.5 724.9 292.1 727.2 290.7 729.4 C289.3 731.6 287.9 733.8 286.5 736.0 C285.1 738.1 283.6 740.3 282.2 742.4 C280.7 744.5 279.3 746.6 277.8 748.6 C276.3 750.7 274.7 752.6 273.1 754.6 C271.6 756.5 270.0 758.5 268.4 760.4 C266.8 762.4 264.2 765.4 263.4 766.4Z" fill="#4a8a66"/><circle cx="267.3" cy="770.7" r="5.80" fill="#4a8a66"/>
<path d="M117.2 920.4 C118.4 919.9 122.1 918.3 124.5 917.2 C127.0 916.0 129.4 914.8 131.8 913.6 C134.2 912.3 136.6 911.1 138.9 909.7 C141.3 908.3 143.5 906.8 145.8 905.4 C148.1 903.9 150.3 902.4 152.5 900.8 C154.7 899.3 156.9 897.7 159.1 896.1 C161.3 894.5 163.4 892.8 165.5 891.2 C167.6 889.5 169.7 887.8 171.8 886.0 C173.8 884.3 175.9 882.5 177.9 880.7 C179.9 878.8 181.8 877.0 183.8 875.1 C185.7 873.3 187.6 871.3 189.5 869.4 C191.4 867.5 193.3 865.5 195.1 863.5 C196.9 861.5 198.7 859.5 200.5 857.5 C202.2 855.4 204.0 853.4 205.7 851.3 C207.4 849.2 209.1 847.1 210.7 845.0 C212.4 842.9 214.0 840.8 215.7 838.7 C217.3 836.5 218.9 834.4 220.5 832.2 C222.1 830.1 223.6 827.9 225.2 825.7 C226.8 823.6 228.3 821.4 229.9 819.2 C231.4 817.0 232.9 814.8 234.5 812.7 C236.0 810.5 237.5 808.3 239.0 806.1 C240.6 803.9 242.1 801.7 243.6 799.6 C245.1 797.4 246.7 795.2 248.2 793.1 C249.7 790.9 251.3 788.7 252.8 786.6 C254.4 784.4 255.9 782.2 257.5 780.1 C259.0 777.9 260.6 775.8 262.1 773.6 C263.7 771.5 265.2 769.3 266.8 767.2 C268.4 765.0 269.9 762.9 271.5 760.8 C273.1 758.6 274.6 756.5 276.2 754.3 C277.8 752.2 279.4 750.1 281.0 748.0 C282.6 745.8 284.2 743.7 285.8 741.6 C287.4 739.5 289.0 737.4 290.6 735.2 C292.2 733.1 293.9 731.0 295.5 728.9 C297.1 726.9 298.8 724.8 300.4 722.7 C302.1 720.6 303.7 718.5 305.4 716.4 C307.0 714.4 308.7 712.3 310.4 710.3 C312.0 708.2 313.7 706.1 315.4 704.1 C317.1 702.1 318.8 700.0 320.5 698.0 C322.2 696.0 324.0 694.0 325.7 692.0 C327.4 690.0 329.2 688.0 331.0 686.0 C332.7 684.1 334.5 682.1 336.3 680.2 C338.1 678.3 340.0 676.4 341.8 674.5 C343.6 672.6 345.5 670.7 347.4 668.8 C349.2 667.0 351.1 665.2 353.1 663.3 C355.0 661.5 356.9 659.7 358.9 658.0 C360.8 656.2 362.8 654.5 364.8 652.8 C366.8 651.1 368.9 649.4 370.9 647.8 C373.0 646.1 375.0 644.5 377.1 642.9 C379.2 641.3 381.3 639.8 383.5 638.3 C385.6 636.7 387.8 635.3 390.0 633.8 C392.2 632.4 394.4 631.0 396.7 629.7 C398.9 628.3 401.2 627.0 403.5 625.8 C405.8 624.5 408.1 623.3 410.5 622.2 C412.8 621.0 415.2 619.9 417.6 618.9 C420.0 617.9 422.4 616.9 424.8 616.0 C427.3 615.1 429.7 614.2 432.2 613.4 C434.7 612.7 437.2 612.0 439.8 611.3 C442.3 610.7 444.8 610.1 447.4 609.6 C449.9 609.0 452.5 608.6 455.1 608.2 C457.7 607.8 460.3 607.4 462.9 607.1 C465.5 606.8 468.1 606.5 470.7 606.3 C473.4 606.1 476.0 605.9 478.6 605.7 C481.3 605.6 483.9 605.5 486.5 605.4 C489.2 605.3 491.8 605.2 494.4 605.2 C497.1 605.1 499.7 605.1 502.4 605.1 C505.0 605.1 507.7 605.1 510.3 605.1 C513.0 605.1 515.7 605.1 518.3 605.1 C521.0 605.2 523.6 605.2 526.3 605.2 C529.0 605.3 531.6 605.3 534.3 605.3 C536.9 605.3 539.6 605.4 542.3 605.4 C544.9 605.4 547.6 605.4 550.3 605.5 C552.9 605.5 555.6 605.5 558.3 605.5 C560.9 605.5 563.6 605.5 566.3 605.5 C568.9 605.5 571.6 605.4 574.3 605.4 C576.9 605.4 579.6 605.3 582.3 605.3 C585.0 605.2 587.6 605.2 590.3 605.1 C593.0 605.0 595.6 604.9 598.3 604.8 C601.0 604.7 603.6 604.6 606.3 604.5 C609.0 604.3 611.7 604.2 614.3 604.0 C617.0 603.9 619.7 603.7 622.4 603.5 C625.0 603.2 627.7 603.0 630.4 602.7 C633.1 602.4 635.7 602.1 638.4 601.8 C641.1 601.4 643.7 601.0 646.4 600.6 C649.1 600.1 651.7 599.6 654.4 599.0 C657.0 598.5 659.7 597.8 662.3 597.2 C664.9 596.5 667.5 595.7 670.1 595.0 C672.7 594.2 675.2 593.4 677.8 592.5 C680.3 591.6 682.9 590.7 685.4 589.8 C687.9 588.8 690.4 587.8 692.9 586.8 C695.4 585.8 697.9 584.7 700.3 583.6 C702.8 582.6 705.2 581.4 707.7 580.3 C710.1 579.1 712.5 577.9 714.9 576.7 C717.3 575.5 719.7 574.2 722.0 573.0 C724.4 571.7 726.8 570.4 729.1 569.0 C731.4 567.7 733.7 566.3 736.0 564.9 C738.3 563.5 740.6 562.1 742.8 560.6 C745.1 559.2 747.3 557.7 749.6 556.2 C751.8 554.6 754.0 553.1 756.2 551.5 C758.3 550.0 760.5 548.4 762.7 546.8 C764.8 545.1 766.9 543.5 769.0 541.8 C771.1 540.2 773.2 538.5 775.3 536.7 C777.3 535.0 779.4 533.3 781.4 531.5 C783.4 529.7 785.4 528.0 787.4 526.2 C789.4 524.3 791.4 522.5 793.3 520.7 C795.3 518.8 797.2 516.9 799.1 515.1 C801.0 513.2 802.9 511.3 804.7 509.3 C806.6 507.4 808.5 505.4 810.3 503.5 C812.1 501.5 813.9 499.5 815.7 497.5 C817.5 495.5 819.3 493.5 821.0 491.5 C822.8 489.5 824.5 487.4 826.2 485.4 C827.9 483.3 829.6 481.2 831.3 479.1 C833.0 477.0 834.6 474.9 836.3 472.8 C837.9 470.7 839.5 468.6 841.1 466.4 C842.7 464.3 844.3 462.1 845.9 460.0 C847.5 457.8 849.0 455.6 850.6 453.4 C852.1 451.3 853.6 449.1 855.2 446.9 C856.7 444.7 858.2 442.5 859.7 440.2 C861.2 438.0 862.7 435.8 864.1 433.6 C865.6 431.4 867.1 429.1 868.5 426.9 C870.0 424.6 871.4 422.4 872.9 420.2 C874.3 417.9 875.7 415.7 877.2 413.4 C878.6 411.2 880.0 408.9 881.4 406.6 C882.9 404.4 884.3 402.1 885.7 399.9 C887.1 397.6 888.5 395.4 889.9 393.1 C891.3 390.8 892.7 388.6 894.1 386.3 C895.5 384.1 896.9 381.8 898.4 379.6 C899.8 377.3 901.2 375.0 902.6 372.8 C904.0 370.5 905.4 368.3 906.9 366.1 C908.3 363.8 909.7 361.6 911.1 359.3 C912.6 357.1 914.0 354.9 915.5 352.7 C916.9 350.4 918.4 348.2 919.9 346.0 C921.3 343.8 922.8 341.6 924.3 339.4 C925.8 337.2 927.3 335.0 928.8 332.8 C930.3 330.7 931.8 328.5 933.3 326.3 C934.9 324.2 936.4 322.0 938.0 319.9 C939.6 317.8 941.1 315.6 942.7 313.5 C944.3 311.4 945.9 309.3 947.5 307.2 C949.1 305.1 950.8 303.0 952.4 300.9 C954.0 298.8 955.7 296.7 957.3 294.7 C959.0 292.6 960.7 290.5 962.3 288.5 C964.0 286.4 965.7 284.4 967.4 282.3 C969.1 280.3 970.8 278.3 972.5 276.3 C974.3 274.2 976.0 272.2 977.7 270.2 C979.5 268.2 981.2 266.2 983.0 264.2 C984.7 262.2 986.5 260.3 988.2 258.3 C990.0 256.3 991.8 254.3 993.6 252.4 C995.4 250.4 997.2 248.5 999.0 246.5 C1000.8 244.6 1002.6 242.7 1004.4 240.7 C1006.2 238.8 1008.1 236.9 1009.9 235.0 C1011.8 233.1 1013.6 231.2 1015.5 229.4 C1017.4 227.5 1019.3 225.6 1021.2 223.8 C1023.1 221.9 1025.0 220.1 1026.9 218.3 C1028.8 216.5 1030.8 214.7 1032.7 212.9 C1034.7 211.2 1036.7 209.4 1038.6 207.7 C1040.6 205.9 1042.6 204.2 1044.7 202.5 C1046.7 200.8 1048.7 199.1 1050.8 197.5 C1052.9 195.9 1054.9 194.2 1057.0 192.6 C1059.1 191.0 1061.2 189.5 1063.4 187.9 C1065.5 186.4 1067.7 184.9 1069.8 183.4 C1072.0 181.9 1074.2 180.4 1076.4 179.0 C1078.6 177.6 1080.9 176.2 1083.1 174.9 C1085.4 173.5 1087.7 172.2 1090.0 171.0 C1092.3 169.7 1094.6 168.5 1096.9 167.3 C1099.3 166.1 1101.6 165.0 1104.0 163.9 C1106.4 162.9 1108.8 161.8 1111.2 160.9 C1113.7 159.9 1116.1 159.0 1118.6 158.1 C1121.1 157.3 1123.5 156.5 1126.0 155.7 C1128.6 155.0 1131.1 154.3 1133.6 153.7 C1136.2 153.1 1138.7 152.6 1141.3 152.1 C1143.9 151.6 1146.4 151.2 1149.0 150.8 C1151.6 150.4 1154.2 150.1 1156.9 149.8 C1159.5 149.5 1162.1 149.3 1164.7 149.1 C1167.3 148.8 1170.0 148.7 1172.6 148.5 C1175.3 148.3 1177.9 148.2 1180.5 148.1 C1183.2 147.9 1185.8 147.8 1188.5 147.7 C1191.2 147.6 1193.8 147.5 1196.5 147.4 C1199.1 147.3 1201.8 147.2 1204.5 147.0 C1207.1 146.9 1211.1 146.7 1212.5 146.6 L1212.1 140.4 C1210.8 140.5 1206.8 140.7 1204.2 140.8 C1201.5 141.0 1198.9 141.1 1196.2 141.2 C1193.6 141.3 1190.9 141.4 1188.2 141.5 C1185.6 141.6 1182.9 141.7 1180.2 141.9 C1177.6 142.0 1174.9 142.1 1172.2 142.3 C1169.5 142.5 1166.9 142.7 1164.2 142.9 C1161.5 143.1 1158.8 143.4 1156.2 143.7 C1153.5 144.0 1150.8 144.3 1148.1 144.7 C1145.5 145.1 1142.8 145.5 1140.1 146.0 C1137.5 146.5 1134.8 147.1 1132.2 147.7 C1129.5 148.3 1126.9 149.0 1124.3 149.8 C1121.7 150.5 1119.1 151.4 1116.6 152.2 C1114.0 153.1 1111.5 154.1 1108.9 155.1 C1106.4 156.1 1103.9 157.2 1101.5 158.3 C1099.0 159.4 1096.6 160.5 1094.1 161.7 C1091.7 163.0 1089.3 164.2 1087.0 165.5 C1084.6 166.8 1082.3 168.2 1079.9 169.5 C1077.6 170.9 1075.3 172.3 1073.1 173.8 C1070.8 175.2 1068.6 176.7 1066.3 178.2 C1064.1 179.7 1061.9 181.3 1059.7 182.9 C1057.6 184.4 1055.4 186.1 1053.3 187.7 C1051.1 189.3 1049.0 191.0 1046.9 192.6 C1044.8 194.3 1042.7 196.0 1040.7 197.7 C1038.6 199.5 1036.6 201.2 1034.6 203.0 C1032.5 204.7 1030.5 206.5 1028.5 208.3 C1026.6 210.1 1024.6 211.9 1022.6 213.8 C1020.7 215.6 1018.7 217.5 1016.8 219.3 C1014.9 221.2 1013.0 223.1 1011.1 225.0 C1009.2 226.8 1007.3 228.7 1005.5 230.7 C1003.6 232.6 1001.7 234.5 999.9 236.4 C998.1 238.4 996.2 240.3 994.4 242.3 C992.6 244.3 990.8 246.2 989.0 248.2 C987.2 250.2 985.4 252.1 983.6 254.1 C981.8 256.1 980.1 258.1 978.3 260.1 C976.5 262.1 974.8 264.1 973.0 266.1 C971.3 268.2 969.5 270.2 967.8 272.2 C966.1 274.3 964.3 276.3 962.6 278.3 C960.9 280.4 959.2 282.5 957.5 284.5 C955.8 286.6 954.1 288.7 952.5 290.8 C950.8 292.8 949.1 294.9 947.5 297.0 C945.8 299.1 944.2 301.3 942.6 303.4 C940.9 305.5 939.3 307.6 937.7 309.8 C936.1 311.9 934.5 314.1 933.0 316.2 C931.4 318.4 929.8 320.5 928.3 322.7 C926.7 324.9 925.2 327.1 923.7 329.3 C922.1 331.5 920.6 333.7 919.1 335.9 C917.6 338.1 916.1 340.3 914.7 342.6 C913.2 344.8 911.7 347.0 910.3 349.3 C908.8 351.5 907.3 353.7 905.9 356.0 C904.5 358.2 903.0 360.5 901.6 362.7 C900.2 365.0 898.7 367.2 897.3 369.5 C895.9 371.7 894.5 374.0 893.1 376.2 C891.7 378.5 890.3 380.8 888.8 383.0 C887.4 385.3 886.0 387.5 884.6 389.8 C883.2 392.1 881.8 394.3 880.4 396.6 C879.0 398.8 877.6 401.1 876.2 403.3 C874.7 405.6 873.3 407.8 871.9 410.1 C870.5 412.3 869.0 414.6 867.6 416.8 C866.2 419.0 864.7 421.3 863.3 423.5 C861.8 425.7 860.4 427.9 858.9 430.1 C857.5 432.3 856.0 434.6 854.5 436.8 C853.0 438.9 851.5 441.1 850.0 443.3 C848.5 445.5 847.0 447.7 845.5 449.8 C843.9 452.0 842.4 454.2 840.8 456.3 C839.3 458.4 837.7 460.6 836.1 462.7 C834.5 464.8 832.9 466.9 831.3 469.0 C829.7 471.1 828.1 473.2 826.4 475.2 C824.8 477.3 823.1 479.3 821.4 481.4 C819.7 483.4 818.0 485.4 816.3 487.4 C814.6 489.4 812.8 491.4 811.0 493.4 C809.3 495.3 807.5 497.3 805.7 499.2 C803.9 501.2 802.1 503.1 800.3 505.0 C798.4 506.9 796.6 508.8 794.7 510.6 C792.8 512.5 790.9 514.3 789.0 516.1 C787.1 518.0 785.2 519.8 783.2 521.5 C781.3 523.3 779.3 525.1 777.3 526.8 C775.3 528.5 773.3 530.2 771.3 531.9 C769.3 533.6 767.2 535.3 765.1 536.9 C763.1 538.6 761.0 540.2 758.9 541.8 C756.8 543.4 754.7 544.9 752.5 546.5 C750.4 548.0 748.2 549.5 746.0 551.0 C743.9 552.5 741.7 553.9 739.5 555.4 C737.2 556.8 735.0 558.2 732.8 559.6 C730.5 560.9 728.2 562.3 726.0 563.6 C723.7 564.9 721.4 566.2 719.1 567.5 C716.7 568.7 714.4 569.9 712.1 571.1 C709.7 572.3 707.4 573.5 705.0 574.6 C702.6 575.8 700.2 576.9 697.8 577.9 C695.4 579.0 693.0 580.0 690.5 581.0 C688.1 582.0 685.6 583.0 683.2 583.9 C680.7 584.8 678.3 585.7 675.8 586.6 C673.3 587.4 670.8 588.2 668.3 589.0 C665.8 589.7 663.2 590.4 660.7 591.1 C658.2 591.7 655.6 592.4 653.1 592.9 C650.5 593.5 647.9 593.9 645.3 594.4 C642.8 594.8 640.2 595.2 637.6 595.6 C635.0 595.9 632.3 596.2 629.7 596.5 C627.1 596.8 624.5 597.0 621.8 597.2 C619.2 597.4 616.6 597.6 613.9 597.8 C611.3 597.9 608.7 598.1 606.0 598.2 C603.4 598.4 600.7 598.5 598.1 598.6 C595.4 598.7 592.8 598.8 590.1 598.8 C587.5 598.9 584.8 599.0 582.2 599.0 C579.5 599.1 576.9 599.1 574.2 599.1 C571.5 599.2 568.9 599.2 566.2 599.2 C563.6 599.2 560.9 599.2 558.3 599.2 C555.6 599.2 553.0 599.2 550.3 599.2 C547.6 599.2 545.0 599.1 542.3 599.1 C539.7 599.1 537.0 599.1 534.3 599.0 C531.7 599.0 529.0 599.0 526.4 599.0 C523.7 598.9 521.0 598.9 518.4 598.9 C515.7 598.8 513.0 598.8 510.4 598.8 C507.7 598.8 505.0 598.8 502.4 598.8 C499.7 598.8 497.0 598.8 494.3 598.9 C491.7 598.9 489.0 599.0 486.3 599.1 C483.6 599.2 480.9 599.3 478.2 599.5 C475.6 599.6 472.9 599.8 470.2 600.0 C467.5 600.3 464.8 600.5 462.2 600.9 C459.5 601.2 456.8 601.5 454.1 602.0 C451.5 602.4 448.8 602.9 446.1 603.4 C443.5 603.9 440.8 604.5 438.2 605.2 C435.6 605.9 432.9 606.6 430.4 607.4 C427.8 608.2 425.2 609.1 422.6 610.1 C420.1 611.0 417.6 612.0 415.1 613.1 C412.6 614.2 410.1 615.3 407.7 616.5 C405.3 617.7 402.9 618.9 400.5 620.2 C398.1 621.5 395.8 622.9 393.4 624.3 C391.1 625.7 388.8 627.1 386.6 628.6 C384.3 630.0 382.1 631.6 379.9 633.1 C377.7 634.7 375.5 636.3 373.3 637.9 C371.2 639.5 369.1 641.2 367.0 642.8 C364.9 644.5 362.8 646.2 360.7 648.0 C358.7 649.7 356.7 651.5 354.7 653.3 C352.7 655.1 350.7 656.9 348.7 658.8 C346.8 660.6 344.9 662.5 342.9 664.4 C341.0 666.2 339.1 668.2 337.3 670.1 C335.4 672.0 333.6 673.9 331.7 675.9 C329.9 677.9 328.1 679.8 326.3 681.8 C324.5 683.8 322.7 685.8 320.9 687.8 C319.2 689.8 317.4 691.9 315.7 693.9 C313.9 695.9 312.2 698.0 310.5 700.0 C308.8 702.1 307.1 704.1 305.4 706.2 C303.7 708.3 302.0 710.3 300.4 712.4 C298.7 714.5 297.0 716.6 295.4 718.7 C293.7 720.8 292.0 722.8 290.4 724.9 C288.7 727.0 287.1 729.1 285.4 731.2 C283.8 733.3 282.1 735.4 280.5 737.5 C278.8 739.6 277.2 741.7 275.6 743.8 C273.9 745.9 272.3 748.0 270.7 750.1 C269.0 752.3 267.4 754.4 265.8 756.5 C264.2 758.6 262.6 760.8 261.0 762.9 C259.4 765.0 257.8 767.1 256.2 769.3 C254.6 771.4 253.0 773.6 251.5 775.8 C249.9 777.9 248.3 780.1 246.8 782.2 C245.2 784.4 243.7 786.6 242.1 788.8 C240.6 790.9 239.1 793.1 237.5 795.3 C236.0 797.5 234.5 799.7 232.9 801.8 C231.4 804.0 229.9 806.2 228.4 808.4 C226.8 810.6 225.3 812.7 223.8 814.9 C222.2 817.1 220.7 819.2 219.1 821.4 C217.6 823.5 216.0 825.6 214.5 827.8 C212.9 829.9 211.3 832.0 209.7 834.1 C208.1 836.2 206.5 838.3 204.8 840.4 C203.2 842.4 201.6 844.5 199.9 846.5 C198.2 848.6 196.5 850.6 194.8 852.5 C193.1 854.5 191.3 856.5 189.5 858.4 C187.8 860.4 186.0 862.3 184.1 864.1 C182.3 866.0 180.4 867.9 178.5 869.7 C176.6 871.5 174.7 873.3 172.8 875.0 C170.8 876.8 168.9 878.5 166.9 880.2 C164.9 881.9 162.8 883.6 160.8 885.2 C158.7 886.8 156.6 888.4 154.5 890.0 C152.4 891.6 150.3 893.1 148.2 894.6 C146.0 896.1 143.8 897.6 141.7 899.0 C139.5 900.4 137.2 901.8 135.0 903.2 C132.8 904.6 130.6 906.0 128.3 907.3 C126.1 908.7 123.8 910.1 121.5 911.4 C119.3 912.7 115.7 914.5 114.6 915.2Z" fill="#1a1a1a"/><circle cx="115.9" cy="917.8" r="2.94" fill="#1a1a1a"/><circle cx="1212.3" cy="143.5" r="3.10" fill="#1a1a1a"/>
<line x1="507" y1="604" x2="476.5" y2="652.5" stroke="#1a1a1a" stroke-width="7.2" stroke-linecap="round"/>
<g stroke="#1a1a1a" stroke-width="7.2" stroke-linecap="round"><line x1="258" y1="437.4" x2="258" y2="475.2"/><line x1="258" y1="491.6" x2="258" y2="521.0"/><line x1="258" y1="552.3" x2="258" y2="583.4"/><line x1="258" y1="619.4" x2="258" y2="654.1"/><line x1="258" y1="675.9" x2="258" y2="707.4"/><line x1="258" y1="731.6" x2="258" y2="775.9"/><line x1="258" y1="814.6" x2="258" y2="851.4"/><line x1="258" y1="873.6" x2="258" y2="908.4"/></g>
<g stroke="#1a1a1a" stroke-width="9" stroke-linecap="round"><line x1="1205.3" y1="33.3" x2="1205.3" y2="74.0"/><line x1="1205.3" y1="93.9" x2="1205.3" y2="123.4"/><line x1="1205.3" y1="156.0" x2="1205.3" y2="182.8"/><line x1="1205.3" y1="209.5" x2="1205.3" y2="237.2"/><line x1="1205.3" y1="264.0" x2="1205.3" y2="299.5"/><line x1="1205.3" y1="322.5" x2="1205.3" y2="353.0"/><line x1="1205.3" y1="391.2" x2="1205.3" y2="418.3"/><line x1="1205.3" y1="460.5" x2="1205.3" y2="491.3"/><line x1="1205.3" y1="520.1" x2="1205.3" y2="550.7"/><line x1="1205.3" y1="581.9" x2="1205.3" y2="628.5"/><line x1="1205.3" y1="642.2" x2="1205.3" y2="676.1"/><line x1="1205.3" y1="702.8" x2="1205.3" y2="729.3"/><line x1="1205.3" y1="761.1" x2="1205.3" y2="787.5"/><line x1="1205.3" y1="816.0" x2="1205.3" y2="844.5"/><line x1="1205.3" y1="880.2" x2="1205.3" y2="904.3"/></g>
<path d="M107.7 929.2 L130.8 924.0 L161.5 921.0 L223.0 919.4 L315.0 918.5 L407.7 917.8 L500.0 918.0 L700.0 918.6 L900.0 919.0 L1146.0 918.5 L1190.0 919.6 L1221.5 921.8 L1190.0 923.0 L1146.0 923.4 L900.0 922.0 L700.0 922.8 L500.0 924.4 L407.7 925.8 L315.0 928.6 L254.0 929.8 L192.0 930.8 L130.8 929.8Z" fill="#000"/>
<path d="M69.0 53.3 C68.6 56.0 67.4 62.0 66.6 69.6 C65.8 77.2 64.2 84.3 63.9 99.0 C63.5 113.7 64.2 138.3 64.5 158.0 C64.8 177.7 65.1 197.2 65.4 217.0 C65.8 236.8 66.2 256.0 66.6 276.5 C67.0 297.0 67.1 314.6 67.8 340.0 C68.5 365.4 69.7 399.2 70.7 428.7 C71.7 458.2 72.7 481.8 73.7 517.0 C74.8 552.2 76.2 596.5 77.0 640.0 C77.8 683.5 78.2 735.2 78.7 778.0 C79.2 820.8 79.7 871.8 80.2 896.5 C80.7 921.2 80.9 916.4 81.7 926.0 C82.5 935.6 84.4 949.3 84.9 954.0 C84.8 949.3 84.4 935.6 84.0 926.0 C83.6 916.4 83.0 921.2 82.6 896.5 C82.2 871.8 81.8 820.8 81.4 778.0 C81.0 735.2 80.8 683.5 80.3 640.0 C79.8 596.5 79.0 552.2 78.4 517.0 C77.8 481.8 77.3 458.2 76.7 428.7 C76.1 399.2 75.2 375.3 74.9 340.0 C74.6 304.7 74.9 247.3 74.9 217.0 C74.9 186.7 75.0 177.7 74.9 158.0 C74.8 138.3 74.9 113.7 74.3 99.0 C73.7 84.3 72.2 77.2 71.3 69.6 C70.4 62.0 69.4 56.0 69.0 53.3Z" fill="#000"/>
</g>
<g id="labels">
<text x="139.73" y="95.90" font-family="'Liberation Sans', sans-serif" font-size="62" font-weight="bold" fill="#000" stroke="#000" stroke-width="0.9" stroke-linejoin="round" textLength="282.34" lengthAdjust="spacingAndGlyphs">backtesting</text>
<text x="435.95" y="95.90" font-family="'Liberation Sans', sans-serif" font-size="62" font-weight="bold" fill="#000" stroke="#000" stroke-width="0.9" stroke-linejoin="round" textLength="64.16" lengthAdjust="spacingAndGlyphs">old</text>
<text x="514.74" y="95.90" font-family="'Liberation Sans', sans-serif" font-size="62" font-weight="bold" fill="#000" stroke="#000" stroke-width="0.9" stroke-linejoin="round" textLength="156.32" lengthAdjust="spacingAndGlyphs">models</text>
<text x="137.11" y="170.50" font-family="'DejaVu Sans', sans-serif" font-size="62" font-weight="normal" fill="#000" stroke="#000" stroke-width="0.6" stroke-linejoin="round" textLength="47.37" lengthAdjust="spacingAndGlyphs">✓</text>
<text x="193.39" y="165.90" font-family="'Liberation Sans', sans-serif" font-size="52.5" font-weight="bold" fill="#000" stroke="#000" stroke-width="0.9" stroke-linejoin="round" textLength="204.25" lengthAdjust="spacingAndGlyphs">actualized</text>
<text x="408.53" y="165.90" font-family="'Liberation Sans', sans-serif" font-size="52.5" font-weight="bold" fill="#000" stroke="#000" stroke-width="0.9" stroke-linejoin="round" textLength="123.11" lengthAdjust="spacingAndGlyphs">inputs</text>
<text x="164.78" y="237.20" font-family="'Liberation Sans', sans-serif" font-size="49" font-weight="normal" fill="#0a7aff" stroke="#0a7aff" stroke-width="2.2" stroke-linejoin="round" textLength="14.22" lengthAdjust="spacingAndGlyphs">f</text>
<text x="177.37" y="244.70" font-family="'Liberation Sans', sans-serif" font-size="25.5" font-weight="normal" fill="#0a7aff" stroke="#0a7aff" stroke-width="0.7" stroke-linejoin="round" textLength="43.71" lengthAdjust="spacingAndGlyphs">τ-6</text>
<text x="258.19" y="234.70" font-family="'Liberation Sans', sans-serif" font-size="40" font-weight="bold" font-style="italic" fill="#0a7aff" stroke="#0a7aff" stroke-width="1" stroke-linejoin="round" textLength="9.73" lengthAdjust="spacingAndGlyphs">,</text>
<text x="275.91" y="235.50" font-family="'Liberation Sans', sans-serif" font-size="45" font-weight="bold" fill="#0a7aff" stroke="#0a7aff" stroke-width="0.8" stroke-linejoin="round" textLength="94.19" lengthAdjust="spacingAndGlyphs">model</text>
<text x="380.19" y="235.50" font-family="'Liberation Sans', sans-serif" font-size="45" font-weight="bold" fill="#0a7aff" stroke="#0a7aff" stroke-width="0.8" stroke-linejoin="round" textLength="82.87" lengthAdjust="spacingAndGlyphs">from</text>
<text x="472.87" y="235.50" font-family="'Liberation Sans', sans-serif" font-size="45" font-weight="bold" fill="#0a7aff" stroke="#0a7aff" stroke-width="0.8" stroke-linejoin="round" textLength="21.93" lengthAdjust="spacingAndGlyphs">6</text>
<text x="504.95" y="235.50" font-family="'Liberation Sans', sans-serif" font-size="45" font-weight="bold" fill="#0a7aff" stroke="#0a7aff" stroke-width="0.8" stroke-linejoin="round" textLength="126.07" lengthAdjust="spacingAndGlyphs">months</text>
<text x="638.96" y="235.50" font-family="'Liberation Sans', sans-serif" font-size="45" font-weight="bold" fill="#0a7aff" stroke="#0a7aff" stroke-width="0.8" stroke-linejoin="round" textLength="58.07" lengthAdjust="spacingAndGlyphs">ago</text>
<text x="164.78" y="291.60" font-family="'Liberation Sans', sans-serif" font-size="49" font-weight="normal" fill="#ff9f0a" stroke="#ff9f0a" stroke-width="2.2" stroke-linejoin="round" textLength="14.22" lengthAdjust="spacingAndGlyphs">f</text>
<text x="177.37" y="299.10" font-family="'Liberation Sans', sans-serif" font-size="25.5" font-weight="normal" fill="#ff9f0a" stroke="#ff9f0a" stroke-width="0.7" stroke-linejoin="round" textLength="43.71" lengthAdjust="spacingAndGlyphs">τ-3</text>
<text x="258.19" y="289.10" font-family="'Liberation Sans', sans-serif" font-size="40" font-weight="bold" font-style="italic" fill="#ff9f0a" stroke="#ff9f0a" stroke-width="1" stroke-linejoin="round" textLength="9.73" lengthAdjust="spacingAndGlyphs">,</text>
<text x="275.91" y="289.90" font-family="'Liberation Sans', sans-serif" font-size="45" font-weight="bold" fill="#ff9f0a" stroke="#ff9f0a" stroke-width="0.8" stroke-linejoin="round" textLength="94.19" lengthAdjust="spacingAndGlyphs">model</text>
<text x="380.19" y="289.90" font-family="'Liberation Sans', sans-serif" font-size="45" font-weight="bold" fill="#ff9f0a" stroke="#ff9f0a" stroke-width="0.8" stroke-linejoin="round" textLength="82.87" lengthAdjust="spacingAndGlyphs">from</text>
<text x="473.87" y="289.90" font-family="'Liberation Sans', sans-serif" font-size="45" font-weight="bold" fill="#ff9f0a" stroke="#ff9f0a" stroke-width="0.8" stroke-linejoin="round" textLength="20.88" lengthAdjust="spacingAndGlyphs">3</text>
<text x="504.95" y="289.90" font-family="'Liberation Sans', sans-serif" font-size="45" font-weight="bold" fill="#ff9f0a" stroke="#ff9f0a" stroke-width="0.8" stroke-linejoin="round" textLength="126.07" lengthAdjust="spacingAndGlyphs">months</text>
<text x="638.96" y="289.90" font-family="'Liberation Sans', sans-serif" font-size="45" font-weight="bold" fill="#ff9f0a" stroke="#ff9f0a" stroke-width="0.8" stroke-linejoin="round" textLength="58.07" lengthAdjust="spacingAndGlyphs">ago</text>
<text x="164.78" y="345.20" font-family="'Liberation Sans', sans-serif" font-size="49" font-weight="normal" fill="#4a8a66" stroke="#4a8a66" stroke-width="2.2" stroke-linejoin="round" textLength="14.22" lengthAdjust="spacingAndGlyphs">f</text>
<text x="177.37" y="352.70" font-family="'Liberation Sans', sans-serif" font-size="25.5" font-weight="normal" fill="#4a8a66" stroke="#4a8a66" stroke-width="0.7" stroke-linejoin="round" textLength="13.63" lengthAdjust="spacingAndGlyphs">τ</text>
<text x="258.19" y="342.70" font-family="'Liberation Sans', sans-serif" font-size="40" font-weight="bold" font-style="italic" fill="#4a8a66" stroke="#4a8a66" stroke-width="1" stroke-linejoin="round" textLength="9.73" lengthAdjust="spacingAndGlyphs">,</text>
<text x="275.91" y="343.50" font-family="'Liberation Sans', sans-serif" font-size="45" font-weight="bold" fill="#4a8a66" stroke="#4a8a66" stroke-width="0.8" stroke-linejoin="round" textLength="94.19" lengthAdjust="spacingAndGlyphs">model</text>
<text x="380.19" y="343.50" font-family="'Liberation Sans', sans-serif" font-size="45" font-weight="bold" fill="#4a8a66" stroke="#4a8a66" stroke-width="0.8" stroke-linejoin="round" textLength="82.87" lengthAdjust="spacingAndGlyphs">from</text>
<text x="472.00" y="343.50" font-family="'Liberation Sans', sans-serif" font-size="45" font-weight="bold" fill="#4a8a66" stroke="#4a8a66" stroke-width="0.8" stroke-linejoin="round" textLength="161.00" lengthAdjust="spacingAndGlyphs">yesterday</text>
<text x="390.99" y="719.40" font-family="'Liberation Sans', sans-serif" font-size="58.5" font-weight="bold" fill="#000" stroke="#000" stroke-width="0.9" stroke-linejoin="round" textLength="160.04" lengthAdjust="spacingAndGlyphs">actuals</text>
<text x="112.98" y="987.20" font-family="'Liberation Sans', sans-serif" font-size="57.5" font-weight="bold" fill="#000" stroke="#000" stroke-width="0.9" stroke-linejoin="round" textLength="108.25" lengthAdjust="spacingAndGlyphs">some</text>
<text x="232.00" y="987.20" font-family="'Liberation Sans', sans-serif" font-size="57.5" font-weight="bold" fill="#000" stroke="#000" stroke-width="0.9" stroke-linejoin="round" textLength="98.82" lengthAdjust="spacingAndGlyphs">time</text>
<text x="341.97" y="987.20" font-family="'Liberation Sans', sans-serif" font-size="57.5" font-weight="bold" fill="#000" stroke="#000" stroke-width="0.9" stroke-linejoin="round" textLength="76.27" lengthAdjust="spacingAndGlyphs">ago</text>
<text x="1139.40" y="978.60" font-family="'Liberation Sans', sans-serif" font-size="58.5" font-weight="bold" fill="#000" stroke="#000" stroke-width="0.9" stroke-linejoin="round" textLength="124.60" lengthAdjust="spacingAndGlyphs">today</text>
</g>
</svg>
</body>
</html>
